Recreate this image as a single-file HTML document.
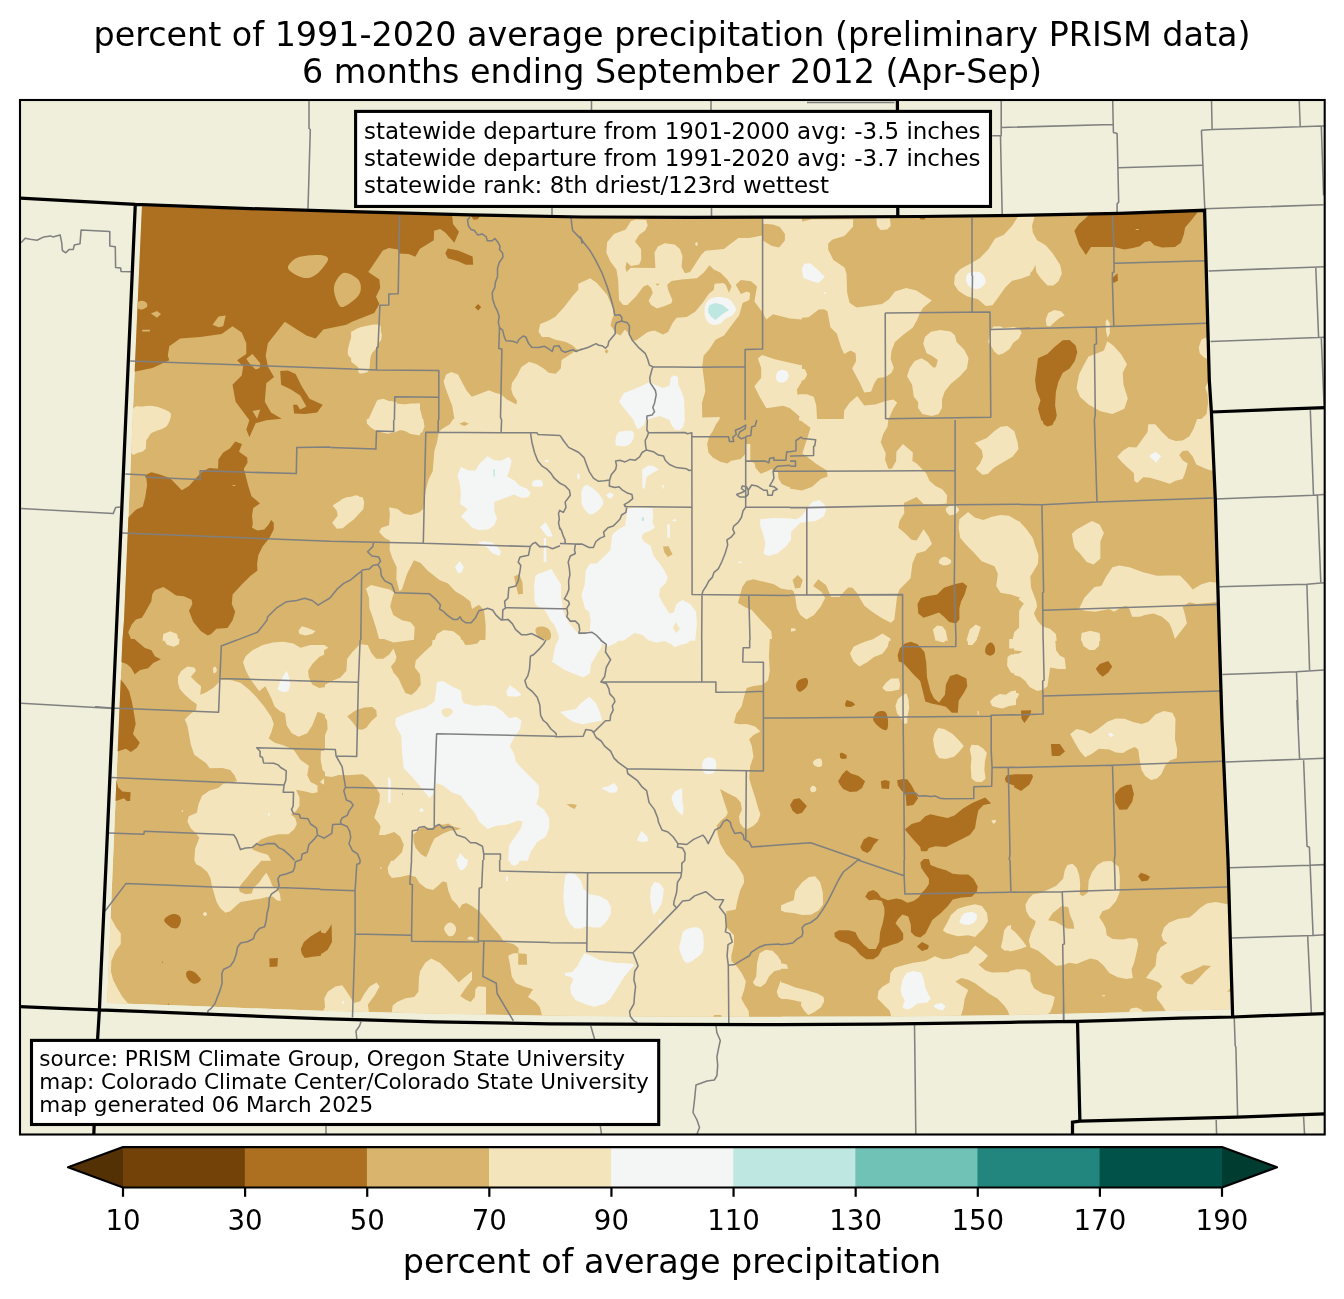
<!DOCTYPE html>
<html lang="en"><head><meta charset="utf-8"><title>percent of average precipitation</title>
<style>html,body{margin:0;padding:0;background:#fff}body{width:1344px;height:1299px;overflow:hidden}svg{display:block}text{font-family:"DejaVu Sans","Liberation Sans",sans-serif;fill:#000}.t{font-size:33.36px}.b{font-size:22.96px}.b2{font-size:21.52px}.k{font-size:27.65px}</style></head><body>
<svg width="1344" height="1299" viewBox="0 0 1344 1299">
<rect width="1344" height="1299" fill="#fff"/>
<defs><clipPath id="ax"><rect x="20" y="100" width="1304.7" height="1034.5"/></clipPath><clipPath id="co"><path d="M135.3,204.4L250,208.6L352,211.7L470,214.9L582,217L690,217.4L800,217.1L920,216.5L1030,215.2L1120,213.3L1205.8,210.3L1210.5,380L1212.6,412L1216.5,499L1220.6,640L1223.1,720L1229.2,860L1234.2,1009.2L1120,1012.4L1010,1015.2L895,1016.5L780,1016.8L665,1016.8L550,1015.8L435,1013.8L320,1010.8L207,1006.6L107.1,1002.9L113,860L122.4,640L124,620L132.5,420L142,204.7Z"/></clipPath></defs>
<g clip-path="url(#ax)">
<rect x="20" y="100" width="1305" height="1034" fill="#efefdb"/>
<g clip-path="url(#co)">
<path d="M135.3,204.4L250,208.6L352,211.7L470,214.9L582,217L690,217.4L800,217.1L920,216.5L1030,215.2L1120,213.3L1205.8,210.3L1210.5,380L1212.6,412L1216.5,499L1220.6,640L1223.1,720L1229.2,860L1234.2,1009.2L1120,1012.4L1010,1015.2L895,1016.5L780,1016.8L665,1016.8L550,1015.8L435,1013.8L320,1010.8L207,1006.6L107.1,1002.9L113,860L122.4,640L124,620L132.5,420L142,204.7Z" fill="#d8b46c"/>
<path fill="#ad7021" d="M138.6,206.2L420,214.5L419.9,248.8L415.3,256.8L408.5,253.9L399.1,253.4L398.2,249.6L388.8,247.9L382.8,250.5L368.3,271.9L379.4,279.6L380.2,288.1L376,296.7L379.4,304L374.2,312.9L352,321.8L346.4,324.8L323.3,329.4L315.6,338.6L306.4,335.6L284.8,321.7L267.9,343.3L265.7,355.6L267.9,366.4L274,377.1L266.3,383.3L264.8,401.8L271,412.5L281.7,418.7L266.3,420.2L255.6,423.3L249.4,437.2L246.3,429.5L249.4,420.2L235.6,401.8L232.5,384.8L241.7,375.6L243.2,366.4L237.1,360.2L246.3,354L246.3,343.3L241.7,332.5L232.5,326.3L221.7,334L200.1,337.1L180.1,338.6L169.3,346.3L167.8,355.6L169.3,360.2L152.4,367.9L135.5,371.6L124.7,371L124.7,206.2ZM280.2,371L287.9,370.4L295.6,374.1L301.8,386.4L309.5,398.7L322.7,404.8L317.2,412.5L304.8,414.1L294.1,413.5L293.1,404.8L297.1,404.8L300.2,409.5L306.4,406.4L300.2,395.6L291,389.5L281.1,384.8ZM164.1,920.2C164.2,918.6 167.1,916.7 168.7,915.6C170.3,914.5 172.2,913.9 173.9,913.9C175.6,913.9 177.8,914.5 179,915.6C180.2,916.8 181.2,918.8 181,920.8C180.8,922.8 179.4,926.4 178.1,927.6C176.8,928.8 174.7,928.5 173,928.1C171.3,927.7 169.4,926.3 167.9,925C166.4,923.7 164.0,921.8 164.1,920.2ZM186.2,972.9C186.5,971.6 187.9,970.5 189.3,970.4C190.7,970.3 192.8,971.1 194.4,972.1C196.0,973.1 197.6,975.1 198.7,976.4C199.8,977.7 201.3,978.6 200.9,979.8C200.5,981.0 197.8,983.2 196.1,983.6C194.4,984.0 192.5,983.3 191,982.4C189.5,981.5 188.0,979.7 187.2,978.1C186.4,976.5 185.8,974.2 186.2,972.9ZM269.3,958.4L277.9,958.1L277.4,966.4L269.7,967ZM300.8,949L303.9,942.1L310.8,936.2L321,930.2L321,955.8L312.5,956.7L304.8,957.9L301.9,954.1ZM161.9,961.8L162.9,961.8L162.9,962.8L161.9,962.8ZM167.9,1003.8L168.9,1003.8L168.9,1004.8L167.9,1004.8ZM115.5,639.1L134.4,639.1L144.6,647.7L151.5,650.3L154.9,656.3L160.9,659.2L153.2,663.1L148.1,668.2L140.3,669.9L134.7,674.2L130.9,667.4L126.7,664L122,662.2L115.5,662.2ZM120.7,679.4L124.9,684.5L129.2,691.3L131.8,701.6L133.5,710.2L135.7,723.9L133,734.1L139.8,742.7L136.9,747.8L130.9,752.1L125.8,748.7L118.1,751.2L112.1,751.2L112.1,679.4ZM116.4,780.3L118.1,787.2L122.4,791.5L130.6,792.3L130.1,800.9L126.7,800.9L124.1,798.3L119,800L115.5,800.9L110.4,800.9L110.4,780.3ZM145.9,474.8L151.3,472.2L159.9,474.4L170.2,478.2L181.8,490.2L189,485.9L195.8,478.2L202.7,471.3L209.5,467.9L218.1,468.8L218.4,459.4L223.2,452.5L230.1,448.2L235.2,441.4L242,444L239,451.7L247.2,457.6L247.5,462.8L243.8,468.8L245.5,474.8L248,485L251.5,496.2L260,503.5L253.2,508.1L252,515.8L252.8,523.5L252,527.8L257.4,530.4L264.3,529.5L268.6,524.4L271.1,520.1L273.7,522.7L273.7,529.5L269.4,538.1L262.6,546.6L258.3,555.2L257.1,563.8L257.4,570.6L250.6,575.7L242,584.3L232.6,594.6L231.8,604L235.2,611.7L232.6,620.2L227.5,627.9L216.4,628.8L211.2,633.9L207.8,635.6L201,631.3L193.3,621.9L189,610.8L192.4,604L191.6,599.7L183.9,596.3L176.2,595.4L168.5,590.3L163.3,586.9L154.8,590.3L152.2,594.6L151.3,601.4L144.5,613.4L141.9,617.7L135.9,619.4L131.7,624.5L128.2,632.2L131.7,640.8L117.1,640.8L117.1,517.5L128.2,517.5L135.9,509.8L142.8,506.4L145.3,497L147.1,485ZM1138,876.3L1140.9,872.8L1146,874.5L1150,876.8L1147.8,880.5L1141.8,881.4ZM1095.8,668.8L1099.7,664L1108.3,660.9L1112.2,666.5L1108.3,672.5L1102.6,676.8L1098.9,673.4ZM1021,710.5L1031.3,710.2L1030.4,714.4L1027,719.6L1024.4,723L1021.5,718.7ZM1050.9,744L1059.8,744L1065,751.6L1059.5,756L1051.8,756ZM1014.1,774.3L1032.1,774.3L1033,776.9L1029.5,784.6L1021,790.9L1014.1,787.2ZM1115.1,794L1120.2,788L1126.2,785.1L1131.4,784.6L1133.9,794L1132.2,801.7L1127.1,809.4L1119.4,809.8L1115.1,802.6ZM1090.2,213.7L1199.3,210.3L1191.1,220.5L1185.1,227.4L1183.9,234.2L1180.9,242.8L1174.9,247.1L1162,247.6L1154.3,245.3L1150.1,241.1L1144.9,241.9L1139.8,246.2L1132.9,247.9L1124.4,249.6L1114.1,247.1L1091,247.1L1085.9,255.1L1079,244.5L1074.4,230.8L1079,224L1085,218.8ZM1111.6,278.7L1117.5,273.2L1117.9,280.4L1113.8,283ZM1038,358.3L1047.4,354L1054.2,347.2L1062.8,340.3L1069.6,340L1075.6,345.5L1077.3,352.3L1074.8,360.9L1069.6,368.6L1062.8,372.8L1058.5,381.4L1055.9,391.7L1055.1,405.4L1056.8,415.6L1055.1,420.8L1041.4,420.8L1038,408.8L1040.5,400.2L1036.3,390L1035.1,379.7L1036.3,371.1ZM1042.2,419.1L1055.1,419.1L1052.5,425.1L1047.4,426.5L1043.6,424.3ZM319.1,931.9L325.1,933.6L328.6,929.3L331.6,924.2L332,942.1L327.7,949.8L321.7,953.8L319.1,953.8ZM417,213.7L452.1,214.5L453,224L459,231.7L454.3,242.8L445.3,232.5L440.1,229.1L434.1,230.8L433.8,240.2L421.3,247.9L417,250ZM470.9,215.4L480.3,215.4L477.8,219.2L473.5,219.7ZM445.3,253.1L447.8,248.4L458.1,250.5L472.6,256.5L473.2,264.7L465.8,264.7L458.1,261.3L447.8,258.2ZM474.9,307.3L478.1,303.9L481.2,307.3L478.1,310.4ZM865.2,896.8L868.1,891.7L873.3,889.9L877.5,892.5L881,897.6L887.8,900.2L896.4,898.5L901.5,899.4L907.5,902.8L913.5,901.1L918.6,897.6L922,892.5L925.5,889.1L928.9,884L928.9,878.8L924.6,872.8L921.2,867.7L920.3,862.6L923.8,859.1L928.9,859.1L930.6,865.1L937.4,867.7L946,870.3L952.8,873.7L959.7,874.5L968.2,874.5L973.4,878.8L977.7,886.5L976.8,891.7L971.7,896.8L961.4,897.6L952.8,899.4L947.7,906.2L940.9,913.1L932.3,919.9L928.9,926.7L925.5,933.6L920.3,937.4L915.2,936.2L910.9,931.9L910.9,925L908.3,916.5L902.4,914.4L898.1,919L895.5,923.3L899.8,928.5L903.2,933.6L903.2,939.6L898.1,943L889.5,945.6L882.7,948.1L878.4,955.8L873.3,959.3L866.4,959.3L860.4,955L855.3,949L848.5,943.9L839.9,941.3L834.8,937L834.4,932.7L839,930.2L848.5,930.2L855.3,931.9L858.7,938.7L863.9,944.7L869,949L875.8,949L879.3,942.1L880.1,931.9L882.7,923.3L884.4,914.8L884.4,907.9L881.8,901.1L875.8,899.4L869,900.2ZM916.9,946.4L922,942.1L928.9,945.6L928,949L922,951ZM897.6,655.4L899.7,648.6L904.8,643.4L910.8,641.7L917.6,644.3L924.5,652L926.2,662.2L927,677.6L930.5,691.3L933.9,698.2L939,702.5L945,694.8L945.9,684.5L950.1,675.9L957,673.9L966.4,678.5L967.3,686.2L963.8,693.1L958.7,700.8L957.8,712.7L951.9,712.7L945.9,706.7L939,705L932.2,703.7L925.3,701.6L922.8,691.3L920.2,681.1L913.3,674.2L907.4,667.4L903.1,663.1L898.8,661.4ZM796.1,685.3C796.4,683.7 797.1,681.4 798.7,680.2C800.3,679.0 803.9,677.9 805.5,678C807.1,678.1 808.0,679.6 808.1,681.1C808.2,682.6 807.7,685.3 806.4,687.1C805.1,688.9 802.0,691.3 800.4,691.7C798.8,692.1 797.7,690.7 797,689.6C796.3,688.5 795.8,686.9 796.1,685.3ZM844.9,704.2L846.6,699.9L852.6,701.9L855.2,704.7L850.9,707.1L845.8,706.7ZM873.1,719.6C872.8,717.6 874.4,715.0 875.7,713.6C877.0,712.2 879.1,711.1 880.8,711C882.5,710.9 884.8,711.1 886,712.7C887.2,714.3 887.8,717.7 888,720.4C888.2,723.1 888.1,727.4 887.3,729C886.5,730.6 885.0,730.4 883.4,729.8C881.8,729.2 879.1,727.3 877.4,725.6C875.7,723.9 873.4,721.6 873.1,719.6ZM839.8,753.8L841.5,752.6L846.6,755L846.6,758.4L842.3,758.9L840.1,757.7ZM838.1,781.2L842.3,774.3L846.6,770.1L850.9,773.5L858.6,776L865.1,781.2L862,788L856.9,791.5L850,792L843.2,788.9L839.8,784.6ZM880.8,781.2L885.1,780L889.7,781.2L889,788.9L881.7,788.5ZM897.1,780.3L903.1,779L907.4,779.5L911.6,785.5L915.1,792.3L918.1,798.3L913.3,805.1L906.5,806L905.6,794L901.4,790.6L897.9,785.5ZM790.1,805.1L793.6,799.2L799.5,798.3L806.9,806L802.1,812.8L797,814.2L792.7,811.1ZM860.3,847.1L863.7,839.4L868.9,836.5L878.8,839.4L874,844.5L870.6,850.5L867.1,853.1L862,850.5ZM904.8,829.6L911.6,824L920.2,821.4L925.3,816.3L930.5,814.2L939,816.3L947.6,818L954.4,815.4L963,808.6L973.2,802.6L985.2,797.4L991.2,803.4L983.5,805.1L978.4,810.3L976.7,818L975,828.2L969.8,835.1L963,838.5L954.4,842.8L945.9,847.1L935.6,846.2L928.8,847.9L927,851.3L921,851.3L920.2,847.1L913.3,839.4L908.2,833.4ZM985.2,650.3C985.3,648.9 985.9,646.4 986.9,645.1C987.9,643.8 989.9,642.3 991.2,642.6C992.5,642.9 994.0,645.1 994.6,646.8C995.2,648.5 995.3,651.3 994.6,652.8C993.9,654.3 991.8,655.6 990.4,655.7C989.0,655.9 987.0,654.6 986.1,653.7C985.2,652.8 985.1,651.7 985.2,650.3ZM1004.9,778.6L1006.6,775.2L1016,774.3L1016,786.3L1009.2,783.8L1005.8,782ZM917.5,604L920.9,598L926.9,596.3L937.2,594.6L944,587.7L954.3,584.3L962.8,582.6L967.1,586L964.6,594.6L961.1,601.4L959.4,608.2L959.4,619.4L956,623.6L949.2,621.9L944,616.8L938.9,612.5L932,615.1L923.5,617.7L918.3,613.4ZM918.1,216.3L926.6,216.3L924.6,219.5L920.6,219.5Z"/>
<path fill="#d8b46c" d="M287.9,267.8C287.6,265.0 292.3,260.7 295.6,258.6C298.9,256.6 303.3,256.0 307.9,255.5C312.5,255.0 320.0,254.7 323.3,255.5C326.6,256.3 328.7,257.3 327.9,260.1C327.1,262.9 322.0,269.4 318.7,272.4C315.4,275.4 311.5,277.5 307.9,278C304.3,278.5 300.4,277.2 297.1,275.5C293.8,273.8 288.1,270.6 287.9,267.8ZM334.1,286.3C335.1,281.5 339.5,274.4 343.3,273.1C347.1,271.8 354.3,276.2 357.2,278.6C360.1,281.1 360.9,284.7 360.9,287.8C360.9,290.9 360.1,293.9 357.2,297.1C354.3,300.3 346.6,306.1 343.3,306.9C340.0,307.7 338.7,305.1 337.2,301.7C335.7,298.3 333.1,291.1 334.1,286.3ZM137,303.2C137.7,302.0 140.0,300.9 141.6,300.8C143.2,300.7 145.4,301.6 146.3,302.6C147.2,303.6 147.7,305.8 146.9,306.9C146.1,308.0 143.2,309.2 141.6,309.4C140.0,309.6 138.4,308.9 137.6,307.9C136.8,306.9 136.3,304.4 137,303.2ZM150.9,313.4L157,310.9L161,314L157,317.7ZM142.2,329.7L149.9,329.7L149.9,331.6L142.2,331.6ZM212.5,324.8L218.6,316.5L225.7,315.6L223.2,326.3L218.6,327.3ZM246.3,358.7L252.5,354L260.2,363.3L259.6,367.9L255.6,369.4L249.4,363.3ZM252.5,411L260.2,409.5L257.1,418.7ZM232.6,484.9L235.2,484.9L235.2,486.1L232.6,486.1ZM1135.7,228.9L1138.9,228.9L1138.9,230.1L1135.7,230.1Z"/>
<path fill="#f3e4bb" d="M347.9,354C347.0,349.1 350.8,338.4 352.6,334C354.4,329.6 354.4,329.4 358.7,327.9C363.0,326.4 375.1,323.8 378.7,324.8C382.3,325.8 380.6,330.4 380.3,334C380.1,337.6 378.8,342.7 377.2,346.3C375.6,349.9 372.3,352.0 371,355.6C369.7,359.2 370.3,365.1 369.5,367.9C368.7,370.7 368.2,371.7 366.4,372.5C364.6,373.3 360.1,374.0 358.7,372.5C357.3,371.0 359.9,366.4 358.1,363.3C356.3,360.2 348.8,358.9 347.9,354ZM368,420.2L377.2,400.2L383.4,398.7L394.1,403.3L408,404.8L420,403.3L420,435.6L411.1,434.1L401.8,429.5L394.1,432.6L377.2,431ZM132.4,411C134.4,403.6 139.3,407.2 143.2,406.4C147.0,405.6 151.4,405.6 155.5,406.4C159.6,407.2 165.2,409.5 167.8,411C170.4,412.5 171.2,413.0 170.9,415.6C170.7,418.2 169.4,423.6 166.3,426.4C163.2,429.2 155.7,430.6 152.4,432.6C149.1,434.7 147.6,435.9 146.3,438.7C145.0,441.5 146.0,447.2 144.7,449.5C143.4,451.8 140.9,452.4 138.6,452.6C136.3,452.9 131.9,457.9 130.9,451C129.9,444.1 130.4,418.4 132.4,411ZM340.2,500L346.4,497.2L358.7,495.7L361.8,500ZM105.4,916.5L110.2,916.5L115.7,926.7L120.8,933.6L120.8,943.9L115.7,950.7L111.4,961L110.9,971.2L113.1,979.8L117.4,988.3L122.5,996.9L128.5,1004.1L128.5,1007.2L103.7,1007.2ZM194,859.1L262.8,859.1L257.7,865.1L252.6,870.3L247.4,877.1L242.3,883.1L238.9,887.4L239.7,891.7L245.7,894.2L251.7,893.4L253.4,888.2L259.4,882.2L262.8,877.1L266.3,872.8L269.7,878.8L272.3,885.7L277.4,889.1L280,894.2L280.8,901.1L276.5,900.2L273.1,896.8L268,896.8L261.1,898.5L250.9,900.2L240.6,901.9L235.5,906.2L230.3,911.3L225.2,912.7L220.1,907.9L216.6,901.9L214.1,893.4L211.8,885.7L210.6,878.8L207.2,872L201.2,866.8L196.1,864.3ZM202.9,913.9C202.9,913.2 204.3,911.9 205,911.9C205.7,911.9 207.2,913.2 207.2,913.9C207.2,914.6 205.7,916.1 205,916.1C204.3,916.1 202.9,914.6 202.9,913.9ZM163.5,639.1L179.7,639.1L178.9,644.3L173.7,646.8L166.9,644.8ZM213.1,668.2C213.4,667.1 215.0,666.6 215.6,667C216.2,667.4 217.1,669.7 216.8,670.8C216.5,671.9 214.5,673.8 213.9,673.4C213.3,673.0 212.8,669.3 213.1,668.2ZM220.8,679.4L231.9,680.2L240.5,682.8L249,689.6L255.9,696.5L264.4,706.7L271.3,717L273.8,723.9L271.3,732.4L268.7,738.4L274.7,742.7L283.2,745.2L293.5,749.5L300.4,759.8L308.9,765.8L307.2,775.2L310.6,782L317.5,785.5L317.5,792.3L312.3,793.2L305.5,791.5L296.1,789.7L299.5,797.4L299.5,806L296.1,811.1L290.9,814.6L295.2,818L296.9,824L294.4,829.1L288.4,834.2L278.1,834.2L267.8,836.8L261,839.4L254.2,845.4L252.4,849.6L259.3,852.2L267.8,854.8L271.3,860.8L194.3,860.8L195.1,848.8L197.7,841.9L199.4,837.7L196,833.4L190.8,828.2L187.4,821.4L188.8,816.3L196.8,812.8L198.5,804.3L202,795.7L209.7,790.6L218.2,788L223.3,783.8L237,781.2L234.5,775.2L230.2,770.1L222.5,768L209.7,768.3L206.2,763.2L200.2,758.9L194.3,754.7L190.8,744.4L189.1,735L187.4,725.6L184.8,719.6L190.8,713.6L196,710.2L196.8,704.2L190.8,699.9L184.8,694.8L179.7,688.8L178,682.8L178,676.8L181.4,670.8L187.4,666.5L194.3,667.4L196,670.8L190.8,676.8L196,681.9L201.1,686.2L200.2,694.8L206.2,692.2L213.1,687.9L218.6,682.8ZM243,662.2L245.6,656.3L252.4,650.3L262.7,645.1L273,642.6L283.2,641.7L293.5,643.4L300.4,647.7L310.6,645.1L326,645.1L326,653.7L319.2,657.1L312.3,664L308.1,670.8L308.9,677.6L312.3,684.5L319.2,687.9L326,687.1L326,715.3L320.9,712.7L317.5,711.9L314.9,718.7L312.3,725.6L307.2,733.3L298.6,736.7L291.8,733.3L286.7,725.6L285,713.6L279.8,711L274.7,706.7L271.3,698.2L268.7,693.1L265.3,686.2L259.3,691.3L254.2,684.5L249,676.8L245.6,669.9ZM320.9,751.2L326,749.5L326,773.5L322.6,770.1L320.6,759.8ZM320,782L323.5,778.6L326,782L323.5,784.6ZM125.7,419.1L168.5,419.1L167.6,425.1L159.9,429.4L151.3,432.8L146.2,440.5L145.9,449.1L139.4,452.5L131.7,450.8ZM162.5,640.8L163.3,633.9L170.2,631.3L177,633.9L178.7,640.8ZM298.5,630.5L301.9,626.2L307.9,627.9L315.6,631.3L312.2,633.9L305.4,635.6L299.4,633.9ZM1025.4,904.8L1028.8,898.5L1033.1,894.2L1040.8,892.9L1049.4,889.1L1056.2,885.7L1063.1,878.8L1064.8,870.3L1067.3,865.1L1072.5,863.8L1076.7,867.7L1079.3,875.4L1080.2,884L1079.8,894.2L1082.7,896.3L1087.9,892.5L1088.7,880.5L1092.1,872L1097.3,865.1L1103.3,861.4L1111,860.9L1118.7,866.8L1119.9,877.1L1119.5,892.5L1116.1,901.1L1109.3,908.8L1102.4,911.3L1099.3,917.3L1103.3,923.3L1105.8,928.5L1106.7,935.3L1112.7,939.1L1122.9,939.6L1129.8,937.9L1136.6,938.7L1138.3,943.9L1136.6,952.4L1134.1,962.7L1131.5,969.5L1132.9,978.1L1126.4,978.9L1117.8,977.2L1109.3,972.9L1103.3,965.2L1097.3,960.1L1090.4,958.4L1083.6,961L1076.7,964L1069,962.7L1063.1,965.2L1056.2,965.8L1051.1,961.8L1044.2,955.8L1038.2,950.7L1030.5,947.6L1028.8,940.4L1031.4,931.9L1034.8,925L1035.7,921.3L1029.7,917.3L1026.3,911.3ZM1009.1,927.6L1015.1,931.9L1021.1,938.7L1026.8,946.4L1020.3,949L1013.4,950.7L1009.1,951.6ZM1009.1,971.2L1016.8,969.2L1025.4,969.5L1030.2,972.9L1030.9,981.5L1034,988.3L1042.5,993.5L1051.1,995.2L1054.8,996.9L1052.8,1005.5L1050.2,1012.3L1042.5,1017.4L1009.1,1017.4ZM1161.5,935.3L1164,927.6L1169.2,922.5L1177.7,919L1189.7,917.3L1194.8,913.1L1200,907.9L1206.8,903.6L1215.4,901.9L1223.9,903.6L1232.5,905.3L1235.9,1014L1167.4,1014L1162.3,1005.5L1156.8,998.6L1157.2,992.6L1162.3,986.6L1158.9,982.4L1152,979.8L1146,978.1L1150.3,972.1L1155.5,966.1L1156.8,954.1L1160.6,947.3L1167.4,943L1163.2,940.4ZM1128.1,1014L1130.6,1008.5L1136.6,1007.5L1141.8,1009.7L1144.3,1014ZM1102.4,994.9L1105,994.9L1105,996.2L1102.4,996.2ZM1014.1,639.1L1055.2,639.1L1056.1,650.3L1059.8,655.4L1064.6,658L1066,669.1L1058.6,669.1L1050.1,667.4L1047.5,686.2L1043.2,689.6L1037.2,691L1029.5,687.1L1025.3,681.1L1020.1,676.8L1014.1,675.1ZM1014.1,691.3L1019.3,693.9L1016.7,699L1014.1,699.9ZM1080.9,639.1L1099.7,639.1L1098.9,646L1094.6,649.9L1089.4,649.9L1083.5,646ZM1070.1,734.1L1076.6,729L1083.5,730.4L1090.3,733.8L1097.1,729.8L1107.4,721.8L1116,718.4L1124.5,718.7L1133.1,722.1L1141.6,723.9L1148.5,721.8L1155.3,714.4L1163.9,711L1172.4,712.7L1175.5,718.7L1175,739.3L1177.2,749.5L1176.7,758.1L1169.9,760.6L1165.6,764.9L1161.3,774.3L1157,778.6L1151,780L1145.1,776L1141.6,770.1L1139.6,759.8L1138.2,749.5L1134.8,747L1128.8,749.5L1122.8,752.9L1116,752.6L1109.1,749.5L1098.9,748.7L1092,753.8L1085.2,757.2L1080,751.2L1074.9,742.7ZM1019.1,214.5L1034.5,217.1L1032,225.7L1032.8,232.5L1037.1,240.2L1045.7,245.3L1052.5,253.1L1060.2,265L1061.9,273.6L1058.5,281.3L1053.4,285.6L1047.4,285.6L1040.5,277.9L1036.3,271.9L1035.4,265L1032.8,270.2L1027.7,276.2L1019.1,279.1ZM1045.7,319.8L1048.2,312.9L1054.2,309.9L1061.1,311.2L1064.8,315.5L1059.4,318.1L1054.2,322.4L1049.9,326.6L1046.5,325.8ZM1105.6,321.5L1107.3,318.9L1109.8,323.2L1109.8,333.5L1107.6,337.8L1106.1,331.8ZM1076.5,388.2L1079,374.6L1084.2,364.3L1088.5,356.6L1095.3,354L1103.9,350.6L1107.3,341.2L1113.3,345.5L1121,354L1127,364.3L1122.7,372.8L1123.5,384.8L1127.8,398.5L1124.4,408.8L1112.4,413.9L1100.4,411.3L1088.5,404.5L1079.9,396.8ZM1198.8,347.2L1201.4,339.5L1205.7,337.8L1209.1,342L1213.4,360.9L1204,357.4L1199.7,353.2ZM1205.2,387.4L1208.2,382.3L1213.4,384L1213.4,420.8L1199.7,420.8L1206.5,413.9L1208.2,401.9L1207.4,393.4ZM1019.1,330.1L1021.7,333.5L1019.1,336.9ZM1117.2,456.8L1122.7,450.8L1128.7,447L1136.4,447.4L1141.5,440.5L1147.5,432L1148.3,424.3L1155.2,424.3L1162,432L1168.9,438.8L1175.7,440.9L1182.6,440.5L1189.4,436.3L1193.7,428.6L1197.1,419.1L1215.1,419.1L1216.8,472.2L1205.7,468.8L1196.3,464.5L1192.8,456.8L1187.7,450.5L1182.6,451.1L1179.2,455.1L1182.6,460.2L1187.7,463.6L1185.1,473.1L1182.6,479L1175.7,480.8L1169.7,483.7L1160.3,480.8L1150.1,477.8L1143.2,477.3L1137.2,483L1134.3,480.8L1133.8,473.1L1127,467.1L1121.8,461.9ZM1071.9,533.8L1076.5,529.5L1084.2,525.2L1091.9,521L1099.6,524.4L1103.9,532.9L1100.4,541.5L1100.4,558.6L1093.6,564.6L1086.7,562L1079.9,553.5L1074.8,548.3L1073.1,541.5ZM1079,609.1L1084.2,598L1094.4,586.9L1101.3,586L1105.6,577.4L1112.4,567.2L1119.3,565.5L1129.5,567.2L1143.2,572.3L1156.9,575.7L1168.9,575.4L1180,575.4L1186.9,582.6L1192.8,589.4L1201.4,584.3L1210,581.7L1221.1,583.4L1221.1,601.4L1208.2,603.1L1196.3,604L1189.4,602.3L1182.6,606.5L1185.1,615.1L1186.9,623.6L1180.9,631.3L1174.9,639L1171.5,627.9L1168.9,622.8L1162,616.8L1153.5,613.4L1144.9,615.1L1139.8,616.8L1132.1,616.8L1129.5,609.1L1126.1,605.7L1121,607.4L1114.1,611.7L1109,609.1L1095.3,611.7L1085,610.8ZM1019.1,521L1026.8,529.5L1032.8,538.1L1035.4,546.6L1038.5,555.2L1038,563.8L1030.3,576.6L1031.1,587.7L1036.3,601.4L1037.1,606.5L1034,613.4L1037.1,620.2L1042.2,626.2L1049.9,628.8L1055.9,633.9L1056.8,640.8L1019.1,640.8L1019.1,610.8L1023.8,603.5L1019.1,599.7ZM1080.8,640.8L1081.6,633.1L1090.2,630.8L1099.6,633.1L1100.4,640.8ZM551,859.1L551,1017.4L542.5,1017.4L539.9,1007.2L535.6,1002L527.9,996.9L533.1,989.2L523.6,986.6L515.9,983.2L511.7,976.4L510,964.4L508.2,955.8L513.4,953.3L518.5,953.3L518.5,948.1L513.4,943.9L504,941.8L499.7,935.3L492.8,927.6L486,919L479.2,911.3L472.3,906.2L466.3,903.1L462,904.5L459.5,908.8L456.9,904.5L451.8,899.4L448.3,890.8L446.6,882.2L442.4,881.4L438.1,885.7L432.9,889.9L426.1,888.2L419.3,883.1L415.8,877.1L409,875.1L400.4,877.1L391.9,878L388.5,873.7L387.6,867.7L391.9,859.1ZM391,1017.4L392.7,1005.5L397,1002L405.6,998.3L414.1,996.9L418.4,991.8L418.9,978.1L420.1,971.2L425.2,962.7L431.2,958.4L439.8,962.7L446.6,969.5L453.5,976.4L458.6,982.4L465.5,976.4L472,971.2L472,979.8L465.5,988.3L460.3,996L465.5,999.5L470.6,1002L474.9,996.9L475.4,989.2L478.3,986.3L486,987L486,1017.4ZM319.1,1017.4L325.1,1007.2L324.3,998.6L327.7,991.8L335.4,986.6L342.2,985.3L345.7,990.1L349.1,995.2L352.2,1000.3L354.2,1002.9L360.2,1001.2L364.5,993.5L369.6,986.6L376.5,982.4L379.6,986.6L374.8,995.2L367.9,1004.6L369.6,1017.4ZM444.1,928.5C444.2,927.1 445.5,925.2 446.6,924.2C447.7,923.2 449.5,922.2 450.9,922.5C452.3,922.8 454.3,924.6 455.2,925.9C456.1,927.2 456.3,928.6 456,930.2C455.7,931.8 454.6,934.3 453.5,935.3C452.4,936.3 450.5,936.6 449.2,936.2C447.9,935.8 446.6,934.0 445.8,932.7C445.0,931.4 444.0,929.9 444.1,928.5ZM467.2,937.9L470.6,936.2L474,937.9L473.2,940.1L468,939.6ZM325,640L555,640L555,860L325,860ZM366.8,419.1L423.3,419.1L424.5,426.8L422.4,432L418.1,435.1L410.4,434L405.3,431.1L400.2,429.9L394.2,432L388.2,433.7L381.3,432.3L375.3,430.3L371.1,427.7L366.8,423.4ZM332.6,505.6L342,499.6L355.7,495.3L362.5,497L364.2,502.1L363.4,509L354,519.3L347.1,524.4L342.8,528.2L336.8,528.7L332.1,522.7L337.7,515.8L336.8,510.7ZM561,419.1L561,640.8L485.4,640.8L485.7,625.4L484,610L478.9,604.8L472,609.1L470.3,601.4L463.5,596.3L454.9,591.1L448.1,583.4L439.5,580L427.5,570.6L420.7,562.9L413.9,560.3L407,574L401.9,589.4L399.3,591.1L396.4,579.2L396.7,567.2L392.5,558.6L389.6,550.1L389.9,540.6L384.8,538.1L379.1,532.1L381.3,527.8L389,525.2L389.9,514.1L389,507.3L397.6,509L403.6,513.8L410.4,515L419,512.4L423.3,509L425,495.3L425.8,490.2L428.4,479.9L432.7,471.3L434.4,450.8L437,442.2L438.7,432.8L441.2,429.4L449.8,424.3L453.2,419.1ZM365.9,588.6L371.1,585.1L381.3,587.4L389.9,589.4L394.2,592.8L392.5,597.1L390.2,606.5L393.3,615.1L401.9,620.2L410.4,621.9L414.7,627.1L413.9,640.8L379.6,640.8L375.3,625.4L371.9,615.1L369.4,608.2L369,598ZM434.4,640.8L437,633.9L443.8,630.1L453.2,631.3L460.1,636.5L461.8,640.8ZM395.9,640.8L401.9,638.2L407.9,640.8ZM351.1,331.8L358.8,328.3L370,327.5L375.1,324.9L380.2,327.5L381.9,335.2L381.1,340.3L377.7,343.8L371.7,346.3L370,354L368.3,368.6L364.8,372.8L359.7,373.7L358,366.9L351.1,361.7ZM368.3,420.8L373.4,410.5L378.5,399.4L385.4,400.2L396.5,401.9L397.3,405.4L411,403.6L417.9,403.6L420.5,410.5L423,420.8ZM443.6,381.4L446.1,374.6L451.3,372L458.1,374.6L462.4,383.1L466.7,390.8L471.8,396.8L478.6,394.2L488.9,390.3L495.8,393L500.9,394.2L506.9,399.4L516.3,404.5L517.1,401.1L512.9,395.1L511.2,389.1L512,383.1L517.1,375.4L521.4,366.9L529.1,361.7L536.8,364.3L543.7,368.6L548.8,372.8L555.6,373.7L560.8,368.6L561.6,360L569.3,354.9L574.5,351.5L583,348.9L583,420.8L454.7,420.8L452.1,405.4L448.7,396.8L445.3,387.4ZM583,349.7L576.2,348.9L572.8,345.5L565.9,342L554.8,339.5L548.8,336.9L542,336.9L538.5,331.8L540.2,324.1L548.8,320.6L555.6,316.4L564.2,307L572.8,295.8L583,284.7ZM550,860L780,860L780,1020L550,1020ZM555,640L785,640L785,860L555,860ZM560,420L790,420L790,640L560,640ZM801.9,319.4L790,318.6L773.1,314.3L766.3,319.4L762.6,312.6L754.4,301.6L757,286.4L751.1,281.3L740.9,279.9L735.8,284.7L740.9,294L746.8,291.5L750.2,293.1L749.4,299.9L742.6,303L739.2,315.2L729,328.7L724,335.5L715.5,339.7L709.6,349L703.6,355.8L702.3,366.8L704.5,382.9L705.3,391.4L701.9,403.2L702.3,417.6L719.7,417L719.7,421.9L578.3,421.9L578.3,283.8L580,283L590.2,278.2L596.9,283L607.1,294.8L613,308.4L613.9,315.2L612.2,318.6L610.5,325.3L616.4,333.8L620.6,335.5L624.9,329.6L629.1,333.8L632.5,340.6L635.9,340.6L647.7,332.1L654.5,330.4L663,334.6L668.1,332.1L672.3,323.6L676.5,317.7L686.7,316.9L695.2,311.8L703.6,301.6L708.7,294L713.8,289.8L714.6,283.8L723.1,283L725.7,284.7L729,292.8L731.6,286.4L727.3,279.6L720.6,272.8L713.8,269.4L709.6,265.2L703.6,272.8L696.9,278.2L681.6,279.6L671.5,281L667.2,284.7L668.1,289.8L672.3,299.9L671.5,303.3L664.7,305.9L657.1,308.4L651.1,305L648.6,300.8L652.8,293.1L651.1,288.1L647.7,284.7L643.5,286.4L635.9,296.5L627.4,305L623.2,305L619,299.9L618.1,279.6L616.4,269.4L610.5,261.8L606.3,252.5L607.1,242.3L613.9,233.9L625.7,229.6L630.8,221.2L635.9,219.5L646.1,220L647.7,225.4L645.2,230.5L639.3,234.7L635,241.5L641,249.1L641.3,259.3L639.3,264.4L630.8,266.1L626.6,261.8L625.4,267.7L626.6,272L630.8,267.7L655.4,268.1L654.5,252.5L657.9,246.6L664.7,243.2L674.8,244.4L679.9,249.1L682.5,255.9L681.6,266.9L685,273.2L690.1,272L701.1,255L705.3,250.8L724,249.1L729,244.9L738.4,238.1L749.4,238.1L762.1,235.6L762.9,240.6L771.4,245.7L779,247.4L784.9,240.6L784.9,233.9L779.8,227.1L773.1,224.6L762.9,223.7L762.9,216.9L801.9,216.9ZM757.8,358.4L762.1,355L774.8,359.2L800,365.1L801.9,365.1L801.9,382.1L800,384.6L796.8,389.7L797.6,394.8L801.9,394.8L801.9,418.5L790,408.3L783.2,405.8L766.3,408.3L759.5,396.5L754.4,386.3L761.2,377.8L761.2,367.7ZM695.2,243.7C695.2,243.0 696.0,242.0 696.5,242C697.0,242.0 697.9,243.0 697.9,243.7C697.9,244.4 697.0,246.1 696.5,246.1C696.0,246.1 695.2,244.4 695.2,243.7ZM779.1,906.2L786.8,902.8L793.7,900.2L795.4,890.8L802.2,882.2L809.1,877.1L815.1,876.3L820.2,882.2L822.8,892.5L823.1,904.5L818.5,910.5L810.8,914.8L802.2,915.1L793.7,913.1L785.1,912.2L779.1,909.6ZM942.9,930.2L946.9,923.3L951.1,914.8L958,908.8L966.5,905.9L975.1,904.2L981.9,905.9L987.1,913.1L987.9,921.6L983.6,928.5L978.5,933.6L975.1,937L968.2,935.3L958,936.2L951.1,934.4L946,932.7ZM1000.8,947.3L1002.5,940.4L1004.2,930.2L1007.6,925.9L1011,925L1011,950.7L1004.2,950.4ZM877.5,998.6L878.4,990.9L882.7,986.6L889.5,982.4L890.4,972.9L894.7,967.8L903.2,965.2L913.5,962.7L925.5,961L934.9,956.2L942.6,959.3L951.1,958.4L959.7,955L968.2,953.3L975.1,945.6L981.1,949.8L987.9,955.8L983.6,961L978.5,964.4L985.4,970.4L992.2,972.6L1011,972.1L1011,1019.2L1007.6,1010.6L1004.2,1005.5L997.3,998.6L988.8,993.5L981.9,988.3L975.1,983.2L968.2,979.8L961.4,978.1L955.4,981.5L961.4,985.8L968.2,990.1L964.8,998.6L963.1,1008.9L961.4,1014L960.5,1019.2L892.1,1019.2L889.5,1010.6L884.4,1005.5ZM779.1,981.5L786.8,984.1L795.4,987.5L805.7,990.1L817.6,993.5L823.6,996.9L824.2,1001.2L821.1,1007.2L814.2,1012.3L808.2,1014.9L804,1010.6L800.9,1005.5L801.4,1002L793.7,1000.3L786.8,999L779.1,999ZM779.1,962.7L786.8,964.4L788.2,968.7L779.1,968.7ZM850,653.7L853.5,646.8L860.3,643.4L867.1,640.9L874,639.1L889.4,639.1L887.7,646.8L882.5,653.7L874,657.1L867.1,662.2L859.4,666.5L853.5,661.4ZM882.2,687.9L886,682.8L891.1,678.5L898.8,678.5L900,684.5L899.3,689.6L891.1,691.3L886,691.3ZM895.4,705.9L897.9,699L903.1,694.8L906.5,693.4L908.6,699.9L909.1,708.5L907.4,717L907.4,723L904.8,723.9L901.4,718.7L897.1,713.6ZM933,739.3L934.7,733.3L938.2,728.1L944.2,729L952.7,734.1L959.6,741L963.8,746.1L959.6,751.2L954.4,756.4L945.9,758.9L939,758.1L935.6,752.9L933.9,746.1ZM969.8,749.5L971.5,744.7L978.4,745.2L983.5,748.7L986.9,752.9L984.9,761.5L984.4,770.1L985.6,778.6L981.8,782L975.8,781.7L971.5,778.6L970.7,766.6L971.5,758.1ZM990,701.6L993.8,697.3L999.8,693.9L1005.8,694.8L1010.9,691.3L1016,690.5L1016,705L1009.2,705.9L1002.3,708.5L997.2,707.6L992.1,705.9ZM1007.5,657.1L1010.9,654.5L1016,653.7L1016,674.2L1010.9,672.5L1007.1,665.7ZM967.3,639.1L977.5,639.1L972.4,645.1L968.1,645.1ZM1009.2,639.1L1016,639.1L1016,648.6L1009.2,648.6ZM936.5,639.1L945.9,639.1L944.2,642.6L939,641.4ZM812.9,762.4C813.0,761.3 814.5,760.0 815.8,759.4C817.1,758.8 819.8,758.1 820.9,758.9C822.0,759.7 822.4,762.8 822.3,764.1C822.2,765.5 821.3,766.7 820.1,767C818.9,767.3 816.1,766.6 814.9,765.8C813.7,765.0 812.8,763.5 812.9,762.4ZM810.2,788.9C810.5,788.0 811.5,786.1 812.4,785.8C813.3,785.5 815.2,786.4 815.8,787.2C816.4,788.0 816.5,789.8 816.1,790.6C815.7,791.5 814.1,792.2 813.2,792.3C812.3,792.3 811.2,791.5 810.7,790.9C810.2,790.3 809.9,789.8 810.2,788.9ZM991.2,820.5L995.5,819.7L996.3,821.4L993.4,824ZM977.5,711L978.7,711L978.7,715L977.7,715ZM888.4,419.1L887.5,426.8L883.3,433.7L880.7,442.2L885.8,453.4L885,459.4L888.4,468.8L891.8,468.8L896.1,461.1L896.4,451.7L902.9,444L912.9,452.5L912.4,461.1L916.6,463.6L926,473.1L929.5,480.8L935.5,485.9L942.3,489.3L947.1,495.3L946.6,503.5L935.5,504.7L923.5,503.9L916.6,497L903.8,503L904.3,513.3L899.5,521L898.3,527.8L904.7,532.9L911.5,539.8L916.6,540.6L920.1,534.7L923.5,529.2L928.6,536.4L932,544.1L925.2,550.9L916.6,553.5L912.4,563.8L910.6,578.3L899.5,589.4L897,597.1L894.4,619.4L891,622.8L882.4,618.5L872.1,611.7L864.4,605.7L860.2,598.8L857.6,593.7L852.5,587.7L848.2,587.4L843.1,592.8L839.6,597.1L831.1,597.1L829,592L825.9,585.1L818.2,579.2L813.1,586L821.7,592L825.1,598L820.8,606.5L814,615.1L806.3,619.4L800.3,615.1L796.8,608.2L795.1,596.3L793.4,591.1L789.1,588.6L789.1,488.5L802,490.5L812.2,486.7L820.8,479L827.6,476.5L826.8,470.5L815.7,463.6L807.1,456.8L802.3,453.4L807.1,438.8L810.5,427.7L798.6,419.1ZM974.8,443.1L986.8,438L994.5,431.1L1000.5,426.8L1007.3,426L1014.2,431.1L1017.6,442.2L1018.5,449.1L1012.5,456.8L1002.2,462.8L993.6,467.9L987.7,473.9L982.5,474.8L975.7,468.8L980,463.6L983,456.8L981.7,449.9ZM945.7,509.8C945.6,508.4 946.9,507.1 948.3,506.4C949.7,505.7 952.5,505.0 954.3,505.6C956.1,506.2 959.0,508.4 959.1,509.8C959.2,511.2 956.8,513.2 955.1,514.1C953.5,515.0 950.8,515.7 949.2,515C947.6,514.3 945.9,511.2 945.7,509.8ZM959.4,519.3L968,512.1L974.8,517.5L983.4,520.1L991.9,516.7L1000.5,515L1009,515.8L1021,522.7L1021,598L1010.8,594.6L1000.5,592.8L996.2,586L997.9,574L994.5,566.3L981.7,561.2L973.1,551.8L966.3,544.9L960.3,538.1L958.6,527.8ZM938.9,561.2C939.2,560.2 940.4,558.5 941.5,557.8C942.6,557.1 944.1,556.5 945.7,556.9C947.3,557.3 950.2,559.1 950.9,560.3C951.6,561.4 951.1,562.9 950,563.8C948.9,564.7 945.7,565.5 944,565.5C942.3,565.5 940.6,564.5 939.7,563.8C938.9,563.1 938.6,562.2 938.9,561.2ZM932.9,629.6L937.2,625.4L942.3,626.2L945.7,630.5L947.8,640.8L935.5,640.8ZM966.3,640.8L969.7,629.6L975.7,624.5L980.8,627.1L978.2,635.6L975.7,640.8ZM1012.5,640.8L1014.2,632.2L1021,625.4L1021,640.8ZM870.4,640.8L882.4,633.6L890.1,638.2L891,640.8ZM789.1,627.9L795.1,628.4L796,630.5L789.1,632.2ZM799.1,222.2L812,219.2L853.1,219.2L853.1,226.5L844.5,235.9L832.5,239.4L828.2,243.6L828.2,249.6L833.4,259.9L844.5,267.6L846.5,273.6L847.1,292.4L849.6,302.7L856.5,307.5L868.5,306.1L882.1,304L889,299.3L895,291.6L906.1,288.1L916.4,290.4L931.8,300.6L923.2,307.8L919.8,313.3L917.2,319.8L912.9,327.5L902.7,335.2L895,342L891.6,350.6L890.7,359.2L893.8,367.7L891.6,372.8L885.6,377.1L877.9,378L874.4,383.1L871,391.7L864.2,392.5L859.9,383.1L852.2,368.6L856.1,360.9L855.6,353.2L850.5,350.6L844.2,354L841.1,347.2L836.8,333.5L830.5,327.5L827.4,311.2L824,309.2L818.8,309.5L808.6,317.2L800,318.1L799.1,318.1ZM876.2,217.1L889.8,217.1L890.7,225.7L887.3,229.4L880.4,229.9L877,225.7ZM1018.2,216.3L1030.3,216.3L1030.3,275.3L1020.8,278.7L1012.2,280.8L1005.4,287.3L999.4,295.8L992.5,305.2L985.7,306.1L978,299.3L966.9,296.2L958.3,290.7L954,283.9L954.9,275.3L960,269.3L971.1,263.3L979.7,258.2L988.2,249.6L995.1,238.5L1003.6,235.1L1012.2,225.7ZM923.2,343.8L924.9,336.9L930.9,331.8L940.3,330.1L950.6,331.4L954.9,335.2L956.6,342L964.3,349.7L968.6,358.3L966.9,368.6L960,376.3L950.6,384L944.6,391.7L942,399.4L942,407.9L938.6,413.9L931.8,416L922.4,413.9L918.1,407.9L918.1,401.9L913.8,396.8L912.1,384.8L907,376.3L909.5,368.6L914.7,360.9L921.5,358.3L927.5,361.7L933.5,367.7L936,366.9L937.8,360L931.8,355.7L926.6,353.2ZM990.8,330.1L993.4,326.6L1000.2,326.3L1003.6,328L1013.9,327L1019.9,329.2L1021.6,332.6L1019,338.6L1013.1,342.9L1009.6,348.9L1003.6,353.2L998.5,354.9L994.2,351.5L990.8,345.5L988.2,342ZM799.1,394.2L806.8,394.2L813.7,396.8L816.3,405.4L817.1,420.8L799.1,420.8ZM799.1,367.7L805.1,369.4L807.2,374.6L805.1,378.8L799.1,383.1ZM843.6,420.8L844.2,410.5L849.6,402.8L857.3,395.9L864.2,405.4L875.3,404.5L885.6,401.1L893.3,399.4L897.2,402.8L893.3,408.8L889,418.2L888.1,420.8Z"/>
<path fill="#d8b46c" d="M1048,920.2L1052.8,913.1L1061.3,906.2L1068.2,907.1L1069.9,914.8L1073.3,922.5L1074.2,928.8L1066.5,928.5L1061.3,925L1055.3,921.6ZM1180.3,976.4L1184.6,972.9L1191.4,970.9L1198.2,967.8L1203.4,965.2L1211.1,966.1L1205.1,971.2L1199.1,978.1L1192.3,984.6L1186.3,983.6L1182.8,979.8ZM1227.3,991.8L1230.8,987.5L1230.8,991.8ZM1014.1,650.3L1022.7,651.6L1018.4,653.7L1014.1,653.7ZM518.2,953.3L526.7,954.1L527.1,964.7L518.2,964.7ZM359.6,639.1L359.2,645.1L352.4,652L347.2,658.8L346.4,670.8L340.4,677.6L331.8,681.1L324.1,685.3L324.1,650.3L328.4,647.7L324.1,644.8L324.1,639.1ZM360.1,639.1L384,639.1L393.5,642.6L412.3,640L432.8,639.1L432,645.1L424.3,652L415.7,660.5L414.8,667.4L420,674.2L420.8,684.5L416.6,690.5L411.4,695.1L405.4,693.1L402,686.2L398.6,678.5L393.5,672.5L390.9,666.5L395.2,661.4L396.5,657.1L393.5,648.6L389.2,654.5L383.2,658.8L376.3,658.8L371.2,652.8L367.8,645.1L360.1,644.3ZM461.9,639.1L480.7,639.1L477.3,643.4L470.5,644.8L465.3,645.1ZM347.2,716.2L355.8,710.2L364.4,707.6L372.1,707.1L376.3,710.2L376.9,716.2L371.2,721.3L366.1,728.1L361.8,729.8L357.5,729L352.4,722.1ZM324.1,716.2L327.1,720.4L327.6,729L324.1,737.5ZM324.1,776L331.8,776.9L338.7,774.9L347.2,775.2L362.6,774.3L367.8,777.8L372.9,783.8L376.3,788L379.8,794L379.4,802.6L376.3,811.1L374.3,818L378.1,822.3L380.6,826.5L378.9,835.1L384.9,835.1L394.3,832L400.3,836.8L403.7,844.5L402,852.2L393.5,860.8L324.1,860.8ZM413.1,835.1L419.1,829.1L424.3,826.9L431.1,828.2L437.9,824.8L444.8,824.5L448.2,823.5L453.3,826.5L461,828.6L456.8,830L449.9,830.8L443.1,833.4L434.5,838.5L431.1,845.4L428.5,852.2L426,857.3L420.8,853.9L415.7,847.9L413.6,841.9ZM402,793.2L403,793.2L403,795L402,795ZM455.1,760.3L456.1,760.3L456.1,762.2L455.1,762.2ZM459.2,423.8L464.3,421.7L469,423.8L464.3,426ZM514,576.6L519.1,574L522.5,582.6L523,593.7L518.2,594.6L515.7,584.3ZM535.4,630.5C535.4,628.9 536.5,627.7 537.9,627.1C539.3,626.5 542.0,626.3 543.9,626.7C545.8,627.1 547.8,628.1 549,629.6C550.2,631.1 551.1,633.9 551.1,635.6C551.1,637.4 550.5,639.5 549,640.1C547.5,640.7 544.1,639.6 542.2,639C540.4,638.4 539.0,637.9 537.9,636.5C536.8,635.1 535.4,632.1 535.4,630.5ZM781,859.1L781,1019.2L749.4,1019.2L748.5,1010.6L745.1,1005.5L741.3,998.6L744.2,990.1L745.9,981.5L741.7,972.9L736.5,966.1L731.4,961L731.4,955.8L734,943.9L734,935.3L726.3,926.7L726.3,911.3L735.7,909.6L737.4,901.1L740,890.8L744.2,882.2L743.4,875.4L738.2,866.8L732.3,859.1ZM711.7,1019.2L714.3,1014.9L721.1,1014.9L722.8,1019.2ZM769.8,639.1L786,639.1L786,860.8L733,860.8L726.1,853.9L720.1,843.6L717.6,833.4L716.7,825.7L721,820.5L726.1,816.3L727.8,812.8L724.4,802.6L720.1,788.9L727.8,793.2L736.4,797.4L740.7,802.6L741.9,809.4L739,816.3L739.8,823.1L743.2,827.4L747.5,829.1L753.5,825.7L757.8,821.4L760.4,814.6L757.8,806.9L755.2,797.4L751.8,787.2L749.2,778.6L750.1,766.6L753.5,756.4L751.8,746.1L749.2,739.3L753.5,735L760.4,731.6L755.2,726.4L746.7,723.9L739,724.2L733.8,723L736.4,713.6L741.5,706.7L744.1,696.5L746.7,687.9L753.5,685.9L762.9,684.8L768.1,680.2L769.8,670.8L768.9,657.1ZM566.6,804.3L572.1,803.9L576.9,805.1L574.7,809.1L570.4,806.9ZM791,419.1L791,487.6L787.3,486.6L781.8,484L778.5,478.5L778,472L773.2,471L772,468.8L767.8,471L760.7,473.7L755.4,467.7L754.7,463.5L750.3,460.7L750.3,444L746.2,444L745.2,453.9L740.7,459L731.1,460.7L727.4,463.6L720.3,461.8L712.8,457.5L708.5,452.7L707.2,444.1L709.1,436.4L712.8,431.1L715.9,424.6L719.8,419.1ZM738,603.1L739.7,596.3L742.3,586.9L746.5,580.9L753.4,579.2L760.2,580.9L773.9,584.3L780.8,588.6L791,590.3L791,640.8L772.2,640.8L771.3,631.3L760.2,619.4L751.7,610L745.7,607.4ZM663,546.6L668.7,546.3L671.2,551.8L672.6,554.3L667.8,556.9L664.4,552.6ZM655.4,283.7L659.6,283.7L657.6,285.7ZM604.6,351.2L606.6,349L608.5,351.6L606.4,353.8ZM792.6,580L797.7,574.9L802.8,580L800.3,587.7L795.1,588.6Z"/>
<path fill="#f4f5f5" d="M277.3,689.6L279.8,682.8L283.2,675.9L286.7,670.8L289.2,677.6L290.1,684.5L288.4,691.3L283.2,692.2ZM267.8,813.2L269.2,812.8L269.9,815.6L268.5,815.9ZM181.8,810.4L183,810.4L183,811.8L181.8,811.8ZM1107.8,734.1L1110.8,732.8L1113.9,735L1111.2,737.2ZM1149.2,455.9L1155.2,451.7L1161.2,455.9L1156,462.8ZM456,859.1L468,859.1L467.2,865.1L463.8,869.4L460.3,870.3L457.8,866ZM509.1,859.1L520.2,859.1L518.5,863.4L514.2,866L510.8,864.3ZM506.2,876.3L507.9,876.3L507.9,880.9L506.2,880.9ZM342.2,1001.2L344,1001.2L344,1003.8L342.2,1003.8ZM380.2,867.4L381.6,867.4L381.6,868.6L380.2,868.6ZM395.2,724.7L396,717.9L403.7,714.4L415.7,710.2L426,707.6L434.5,701.6L435.4,694.8L437.1,681.9L443.1,681.1L451.6,686.2L461,690.5L461.9,699L463.6,703.3L475.6,705.9L484.2,705L494.4,705.9L501.3,710.2L509,717.9L516.7,717L521.5,720.4L520.1,729L514.1,737.5L509.8,746.1L514.1,753.8L515.8,761.5L521.8,768.3L530.4,776.9L538.9,785.5L538.9,795.7L536.3,804.3L544,809.4L549.2,818L549.2,828.2L545.8,836.8L537.2,841.9L530.4,852.2L527.8,860.8L508.1,860.8L509,845.4L515,836.8L520.9,828.2L522.7,821.4L518.4,820.5L506.4,824.8L496.1,825.7L487.6,829.1L479,821.4L474.7,812.8L467,804.3L461,795.7L451.6,792.3L443.1,785.5L436.2,782.9L434.5,792.3L429.4,798.3L425.1,792.3L420.8,787.2L412.3,776.9L403.7,768.3L402,751.2L401.2,735.8ZM506.4,691.3L509.8,685.3L515,688.8L521.8,694.8L516.7,696.8L507.3,696.1ZM388,778.6L389.7,776.9L390.9,782L390.4,802.6L388.3,803.4ZM419.1,810.3L421.7,807.7L424.3,811.1L420.8,812ZM456.8,860.8L460.2,853.1L467,860.8ZM551.7,662.2L556,654.5L556,663.1ZM457.5,475.6L460.9,467.1L468.6,470.5L475.5,470.5L478.9,464.5L487.4,456.3L494.3,460.2L501.1,460.7L508.8,456.8L511.7,461.1L509.7,469.6L507.1,476.5L514.8,480.8L520,485.9L526.8,488.5L530.6,492.7L528.5,497L521.7,497.9L514,494.4L504.6,497.9L494.3,502.1L494.3,510.7L496.9,518.4L494.3,525.2L488.3,529.5L478.9,529.9L472,527.8L466,521L460.9,516.7L467.8,509L460.1,503.9L460.9,493.6L459.7,483.3ZM531.9,485C531.8,484.1 532.2,481.7 533.6,480.8C535.0,479.9 538.9,479.3 540.5,479.9C542.1,480.5 543.0,483.1 543.1,484.2C543.2,485.3 542.7,486.3 541.3,486.7C539.9,487.1 536.1,486.7 534.5,486.4C532.9,486.1 532.0,485.9 531.9,485ZM544.8,460.2L549,459.4L548.2,461.9L545.3,461.9ZM540.1,527L545.6,522.3L549.9,529.5L552.8,536.4L547.3,536.4L543.1,531.2ZM477.2,542.4L484,541.2L492.6,542.4L498.6,548.3L501.1,551.8L499.4,556L492.6,553.5L487.4,547.5ZM454.9,567.2L459.7,560.7L463.8,567.2L461.8,572.3L458.3,573.2ZM543.9,538.1L546,538.1L546.5,562L543.6,562ZM535.4,575.7L543.9,572.3L551.6,568.9L554.2,574L561,584.3L561,640.8L550.8,616.8L545.6,610L535.4,604.8L534,586ZM563.3,898.5L564,885.7L565.4,875.4L568.8,872L575.7,874.5L580.8,880.5L583.4,889.1L589.4,894.2L599.6,895.9L607.3,900.2L610.8,906.2L610.8,913.9L606.5,921.6L600.5,927.6L592.8,927.6L586.8,925.9L580.8,928.5L574.8,928.5L569.7,923.3L565.4,914.8ZM650.1,898.5L651,887.4L654.4,881.9L659.5,883.1L663.8,889.1L662.9,897.6L661.2,904.5L657,911.3L653.5,914.8L651.8,908.8ZM659,919.6L660.4,919L661.6,922.5L659.5,925ZM679.2,948.1C679.1,945.5 680.3,943.0 680.9,940.4C681.5,937.8 681.6,934.6 682.6,932.7C683.6,930.9 685.0,930.2 686.9,929.3C688.8,928.4 691.7,927.4 693.8,927.3C695.9,927.2 698.2,927.5 699.7,928.5C701.2,929.5 702.1,931.0 702.8,933.6C703.5,936.2 703.8,940.8 703.7,943.9C703.6,947.0 703.7,950.0 702.3,952.4C700.9,954.8 697.8,956.7 695.5,958.4C693.2,960.1 690.5,962.3 688.6,962.7C686.7,963.1 685.4,962.1 684.3,961C683.2,959.9 682.6,957.9 681.8,955.8C680.9,953.6 679.4,950.7 679.2,948.1ZM564.5,972.9L572.2,972.1L577.4,966.1L580.8,959.3L584.2,953.3L589.4,955L599.6,960.1L615,962.7L630.4,963.5L634.7,964.7L630.4,969.5L624.4,976.4L620.2,983.2L615,991.8L609.9,999.5L604.8,1003.8L594.5,1006.8L585.9,1004.6L575.7,1000.3L570.9,993.5L570.2,986.6L573.1,979.8L571.4,977.2L565.4,975.5ZM599.8,639.1L620.9,639.1L614.9,643.4L608.1,646.5L604.6,645.1L600.9,643.1ZM650,639.1L691.9,639.1L686.8,643.4L679.9,645.1L674.8,647.2L671.4,644.3L664.5,640.9L657.7,642.6L652.5,641.7ZM560.1,711.9L568.7,710.2L575.5,709.3L580.7,703.3L589.2,696.8L596.1,703.3L599.8,711.9L602.1,720.4L594.4,722.1L582.4,724.2L573.8,722.1L567,717.9ZM600.9,788L608.1,786.3L614,782.9L618,788L616.3,792.6L609.8,792.8ZM702.2,764.9C702.2,762.8 702.8,761.1 703.9,759.8C705.0,758.5 707.1,757.2 709,757.2C710.9,757.2 713.8,758.2 715,759.8C716.2,761.4 716.3,764.5 716.2,766.6C716.1,768.7 715.4,771.3 714.2,772.6C713.0,773.9 710.7,774.3 709,774.3C707.3,774.3 705.0,774.2 703.9,772.6C702.8,771.0 702.2,767.0 702.2,764.9ZM671.4,797.4L674.8,791.5L682,788L682.5,802.6L683.7,808.6L682.5,815.4L678.2,812L673.9,806ZM636.8,840.2L641.4,830.8L647.4,836.8L648.3,841.1L642.3,842.3ZM581.4,595.4L584.8,584.3L585.7,570.6L589.9,563.8L596.8,563.4L604.5,556L610.5,550.1L612.2,534.7L619,528.7L625,526.1L627.6,509L633.6,508.1L652.4,508.1L653.3,515.8L652.4,522.7L655,527.8L649,531.2L643.9,532.9L641.3,537.2L643.9,541.5L650.7,545.8L653.3,555.2L658.4,562L663.5,568.9L667.8,577.4L666.1,582.6L660.1,588.6L658.9,595.4L662.7,603.1L669.5,613.4L673.8,612.5L676.4,604L682.4,600L690.1,604L696,611.7L696.9,623.6L695.2,640.8L649,640.8L642.1,634.8L634.4,633.1L623.3,640.8L602.8,640.8L589.9,632.2L590.5,619.4L589.1,611.7L585.2,608.9ZM534.3,600.4L534.5,587.4L535.6,576.6L537.7,573.9L544.2,571.8L551.2,569.1L553.3,572.3L556,578.8L558.7,585.3L559.3,593.9L562,600.4L563,610.1L564.7,615.4L569,623L575.4,630.5L579.8,634.8L584.1,633.8L587.3,631.6L593.8,631.6L599.2,637L601.8,643.5L601.3,647.8L598.1,652.1L593.8,659.6L591.1,663.9L590,673.6L583,677.4L573.3,673.6L564.7,669.9L557.1,665L552.3,661.8L553.9,653.2L555.5,645.6L558.7,639.2L559.1,632.7L556,626.2L550.7,620.8L547.4,614.4L544.2,609.5L536.6,606ZM615.6,444C615.3,442.3 615.6,437.5 616.5,435.4C617.4,433.3 618.2,432.3 620.8,431.6C623.4,430.9 629.7,430.3 631.9,431.1C634.1,431.9 634.0,434.3 633.9,436.3C633.8,438.3 632.3,441.5 631,443.1C629.7,444.7 628.0,445.6 625.9,446C623.8,446.4 619.9,446.0 618.2,445.7C616.5,445.4 615.9,445.7 615.6,444ZM577.1,474.8L578.5,472.7L579.9,475.6L579.2,479.6L577.5,479ZM581.4,498.7C581.3,496.1 581.2,492.5 581.9,490.2C582.6,487.9 584.1,485.4 585.7,485C587.3,484.6 589.6,486.2 591.7,487.6C593.8,489.0 596.6,491.5 598.5,493.6C600.4,495.7 602.1,498.4 602.8,500.4C603.4,502.4 603.4,503.7 602.4,505.6C601.4,507.5 598.7,510.1 596.8,511.6C594.9,513.1 592.6,514.6 590.8,514.5C588.9,514.4 587.1,512.2 585.7,510.7C584.3,509.2 582.9,507.6 582.2,505.6C581.5,503.6 581.5,501.3 581.4,498.7ZM606.2,495.3L609.6,492.2L613.9,494.4L611.3,498.4L608.8,497.9ZM642.1,469.6L649,465.3L654.1,466.2L658.9,469.6L652.4,473.1L646.4,477.3L644.7,488.5L642.5,488.5ZM662.3,485L663.9,485L663.5,488.5L662.3,488.5ZM667,524.7L669.9,524L669.9,538.1L667.5,538.1ZM672.1,520.1L675.5,518.9L676.7,521L672.9,521.3ZM760.2,519.3L773.9,517.9L791,518.4L791,539.8L785.9,546.6L777.3,553.5L767.9,556L763.6,553.5L765.4,543.2L762.8,532.9L760.2,526.1ZM738.3,561.7L741.7,561.2L741.7,562.9L738.3,563.1ZM619,401.5L624,393.1L630.8,390.5L642.7,385.5L649.4,382.1L654.5,384.6L663,388L669.8,385.5L670.6,377.8L674,375.3L677.9,377L678.2,384.6L681.6,391.4L684.2,399.8L684.8,420L683.2,426.8L679.8,430.3L674.7,429.4L671.2,424.3L669.5,420L659.9,416.1L645.6,420L643.9,425.1L637.9,429.4L635.3,425.1L633.6,420L624,408.3ZM704.5,310.1C704.6,307.8 705.1,305.3 706.2,303.3C707.3,301.3 708.9,299.3 711.3,298.2C713.7,297.1 717.6,296.8 720.6,296.9C723.6,297.0 726.8,297.8 729,299.1C731.2,300.5 733.0,303.2 734.1,305C735.2,306.8 736.1,308.4 735.8,310.1C735.5,311.8 734.1,313.8 732.4,315.2C730.7,316.6 727.7,317.2 725.7,318.6C723.7,320.0 722.6,322.5 720.6,323.6C718.6,324.7 715.9,325.3 713.8,325C711.7,324.7 709.3,323.2 707.9,321.9C706.5,320.5 705.9,318.9 705.3,316.9C704.7,314.9 704.4,312.4 704.5,310.1ZM776,376.1C776.1,374.5 776.7,372.4 777.8,371.4C778.9,370.4 780.9,369.9 782.4,369.9C783.9,369.9 786.0,370.4 787,371.4C788.0,372.4 788.8,374.6 788.7,376.1C788.6,377.6 787.8,379.3 786.6,380.4C785.4,381.5 783.0,382.5 781.5,382.6C780.0,382.7 778.2,382.0 777.3,380.9C776.4,379.8 775.9,377.7 776,376.1ZM959.3,922.5L961.4,916.5L964.8,913.1L971.7,911.7L976.8,913.9L976.8,919L973.4,923.3L968.2,925L963.1,924.2ZM900.6,990.1L902.4,979.8L906.6,972.9L913.5,970.9L921.2,972.6L923.8,979.8L925.5,988.3L928.9,995.2L930.9,998.6L927.2,1002.4L916.9,1003.8L911.8,1008L906.6,1009.7L902.4,1007.2L904.9,1000.3L901.8,995.2ZM933.2,1006.3L936.6,1003.8L941.7,1002.9L945.7,1006.3L942.6,1010.6L937.4,1009.2ZM808,507.3L812.2,502.1L819.1,500.1L824.2,503.9L826.3,509.8L823.4,516.7L815.7,521L808,521.8L800.3,522.7L793.4,529.5L789.1,533.8L789.1,518.4L796.8,519.3L802,515.8ZM801.7,269.3L804.3,263.7L810.3,263.3L817.1,269.3L824.8,276.7L818.8,283L812,281.3L803.4,277.9ZM823.8,292.9C823.8,292.5 824.5,291.9 824.8,291.9C825.1,291.9 825.8,292.5 825.8,292.9C825.8,293.2 825.1,294.0 824.8,294C824.5,294.0 823.8,293.2 823.8,292.9ZM966,280.4C965.7,278.3 966.3,275.3 967.4,273.9C968.5,272.5 970.8,272.2 972.8,271.9C974.8,271.6 977.8,271.5 979.7,272.2C981.6,272.9 983.0,274.5 984,276.2C985.0,277.9 986.1,280.2 985.7,282.1C985.3,284.0 983.0,286.2 981.4,287.3C979.8,288.4 978.3,289.1 976.3,289C974.3,288.9 971.1,287.8 969.4,286.4C967.7,285.0 966.3,282.5 966,280.4Z"/>
<path fill="#f3e4bb" d="M441.4,711C441.8,709.6 444.8,708.4 446.5,708.1C448.2,707.8 450.6,708.5 451.6,709.3C452.6,710.1 453.1,711.5 452.5,712.7C451.9,713.9 449.6,716.1 448.2,716.7C446.8,717.3 445.0,717.2 443.9,716.2C442.8,715.2 441.0,712.4 441.4,711ZM752.8,982.4L756.2,976.4L757.1,962.7L759.6,953.3L765.6,949.8L772.5,950.7L777.6,955.8L781,961L781,969.5L774.2,971.2L769,976.4L765.6,983.2L760.5,987L755.4,985.8ZM776.7,991.8L781,979.8L781,998.6L778.5,996.9ZM672.9,627.9L675.5,621.9L679.8,628.8L676.4,633.1Z"/>
<path fill="#bfe7e1" d="M493.4,469.3L494.8,469.3L494.8,476.5L493.4,476.5ZM641.8,517.2L643.9,517.2L643.9,521L641.8,521ZM708.2,308.4L709.6,305L715.5,303L722.3,304.7L729,310.1L722.3,314.3L715.5,319.9L711.3,316.9L708.2,312.6Z"/>
</g>
<path fill="none" stroke="#808080" stroke-width="1.55" stroke-linejoin="round" d="M130.2,361.1L250,365.3L352,369.1M105.1,911L125.9,883.6L213.2,886.9L244,887.4L278.2,887.4L320,889.1M300.5,860L295.4,861.7L294.5,867.7L292.8,871.6L286.8,873.7L280,875.4L277.9,878.8L279.1,885.7L277.4,889.9L271.4,894.2L269.3,898.5L268.8,906.2L267.1,913.1L266.3,919.9L264.6,926.7L259.4,928.5L255.1,933.6L253.4,938.7L247.4,941.8L240.6,943L237.5,947.3L236.3,954.1L233.8,961L230.3,966.1L223.5,969.5L221.8,973.8L222.1,983.2L220.1,990.1L217.5,996.9L214.9,1003.8L210.6,1008.9L208.1,1010.6L207.7,1012.8M95,706.7L112.1,707.9L218.6,712.2L219.9,678.5L221.3,646L237,640M219.9,678.5L325,681.6M111.3,777.4L284.1,785.1L283.2,792.3L293.5,792.3L293.2,806L291.5,809.4L293.5,813.7L299.5,814.6L300.4,818L308.1,818.8L310.6,824L316.6,828.2L317.5,835.1L325,838.5M284.1,785.1L285.8,780.3L286.3,770.9L280.7,767.5L278.1,764.9L273.8,763.2L263.6,762.9L262.4,757.2L260.1,756.4L260.1,751.2L256.7,747.8L325,749.5M108.7,832.9L143.8,834.2L144.3,831.3L233.6,834.7L236.2,838.5L240.5,849.6L245.6,847.9L252.4,847.4L256.7,843.6L260.1,845.4L264.4,844.5L267.8,843.6L274.7,843.6L279,847.9L283.2,849.6L289.2,854.8L294.4,860.1M317.5,835.1L314,839.4L308.9,844.5L307.2,852.2L302.1,853.9L301.2,860.1M125.3,474.1L145.3,475.1L146.2,477.3L200.1,479.4L200.1,470.8L296.3,473.6L296.8,447.4L330,447M122.2,532.9L330,541.2M236.9,640.1L257.4,632.2L261.7,627.1L266.9,620.2L267.7,616.8L276.3,608.2L286.5,601.7L296.8,600.5L304.5,598.3L312.2,600.5L318.2,605.2L324.2,601.4L330,598M1010,860L1010.9,892.2L1062.2,891.7L1115.2,889.9L1227,886.9M1114.4,860L1115.2,889.9M1062.2,891.7L1064.4,943.9L1062.7,944.7L1063.9,1020M1043.2,640L1044.1,680.2L1042.7,681.1L1043.2,713.9L1015,715M1043.2,696.1L1219.8,691M1015,767.5L1112.5,765.3L1222.1,761.2M1112.5,765.3L1115.1,853.9L1114.3,860.1M1112.4,215.1L1113.8,242.8L1114.1,271.9L1112.4,272.7L1112.4,282.1L1113.8,325.8M1114.5,263.3L1205.7,260.8M1020,328.7L1096.2,327L1206.9,323.2M1096.2,327L1096.5,343.8L1094.4,344.6L1095.3,413.9L1094.4,420.1M1094.4,420L1097,502.1M1020,504.4L1041.9,504.7L1097,502.1L1213,497.9M1041.9,504.7L1043.6,592L1042.6,592.8L1043.1,640.8M1043.1,610.3L1216.8,604.5M360.2,860L359.7,863.4L356.8,864.3L355.1,890.8L355.1,934.4L352.5,1017.4M320,889.4L355.1,890.8M355.1,933.9L411.6,935.3L412.4,884.8L409.8,884L411.6,860M411.6,935.3L411.6,941.3L478.3,942.1L479.2,888.2L481.7,887.4L482.9,860M478.3,940.8L550,942.5M483.9,941.3L482.9,976.4L496.3,983.2L497.1,993.5L513.4,1020.9M499.7,860L499.7,871.1L550,872.3M360.1,640L358.4,681.9L356.7,756.4L336.1,756L335.3,749.5L325,749.2M325,681.6L358.4,682.3M336.1,756L342.1,766.6L345.5,787.2L434.5,789.4L436.6,733.8L555,736.2M434.5,789.4L434.2,826.5M345.5,787.2L343.8,790.6L346.4,800L350.7,801.7L353.2,805.1L349,811.1L347.2,815.4L342.1,818L340.4,821.4L341.3,824L347.2,826.5L349.8,831.7L350.7,837.7L349,843.6L352.4,850.5L357.5,853.9L360.1,860.1M341.3,824L332.7,824.5L331.8,833.4L325,837.7M411.4,860.1L412.3,830.8L417.4,830L419.1,827.4L424.3,826.5L427.7,829.1L432.8,829.1L436.2,825.7L439.3,824.5L443.1,828.2L448.2,826.5L452.5,827.4L456.8,835.1L465.3,837.7L470.5,842.8L475.6,842.8L482.4,846.2L483.8,853.9L500.4,853.9L500.4,860.1M483.8,853.9L483.8,860.1M545.8,640L544,643.4L538.9,649.4L533.8,654.5L530.4,656.3L529.5,669.1L527.8,675.9L524.9,680.7L526.9,687.1L532.1,691.3L537.2,697.3L539.8,705L540.6,715.3L543.2,720.4L546.6,723L550.9,729L555,732.4M330,447.4L375.9,449.1L376.5,431.1L393.7,431.6L393.7,420M438.2,420L438.2,432L425.8,432.3L423.3,543.2M425.8,432.3L501.1,432.8L501.6,420M501.1,432.8L537.1,432.8L537.9,434.5L560,435.4M530.6,433.7L531.9,442.2L534.5,452.5L537.9,461.1L542.2,466.2L546.5,468.8L550.8,473.1L554.2,478.2L560,483.3M330,541.2L423.3,543.2L530.2,546.6L532.8,543.6L535.4,542.4L539.6,546.6L547.3,546.6L552.5,548.7L560,545.8M530.2,546.6L528.5,555.2L520,556.9L518.2,562L520.8,565.5L520,570.6L518.2,580.9L515.7,586L508.8,587.7L508,598L504.6,601.4L505.4,608.2L502.8,610L502.5,619.4M505.4,607.7L560,608.8M373.6,542.4L372.8,546.6L367.6,551.8L371.9,556L378.8,556.9L380.5,561.2L377.9,564.6L380.5,568.9L381.3,575.7L384.8,580.9L391.6,584.3L395,592.8L429.3,593.7L436.1,599.7L440.4,604.8L439.5,609.1L443.8,611.7L447.2,615.1L453.2,619.4L457.5,619.4L460.1,616.8L461.8,620.2L466,622.8L471.2,622.8L475.5,617.7L478.9,610.8L485.7,609.1L487.4,608.2L492.6,610L496,615.1L501.1,619.9L508,619.4L512.3,623.6L515.7,629.6L521.7,634.8L526.8,634.8L531.9,633.6L538.8,637.3L543.9,640.1M377.9,564.6L372.8,565.5L369.4,568.9L363.4,569.7L355.7,575.7L350.5,580L343.7,583.4L336.8,589.4L330,598M361.7,572.3L360.8,640.1M560,509.8L558.5,513.3L559.3,519.3L558.5,522.7L560,529.5M399.6,215.4L398.2,293.8L388.8,294.1L388.8,304.9L379.9,305.2L378,347.2L376.8,347.5L376.5,369.9M352,369.1L376.5,369.9L438.8,370.6L438.8,420.1M394.4,420.1L394.8,396.8L438.4,397.3M470.1,217.1L467.5,219.7L468.4,225.7L470.9,229.4L474.4,230.5L477.8,235.1L482.1,233.9L486.3,236.8L487.2,240.7L492.3,240.7L494.9,238.5L498.3,242.8L500,246.2L499.5,249.6L502.6,253.1L502.9,257.3L499.2,262.5L497.5,268.5L497.5,277L495.4,282.1L494.9,287.3L492.3,292.4L492.7,299.3L494.9,306.1L497.5,311.2L499.2,316.4L498.3,322.4L499.5,327.5L502.6,330.1L504.3,336.9L506,340.7L512.9,341.2L517.1,342.9L518.9,339.5L523.1,336L525.7,336.9L528.3,342.9L531.7,347.2L538.5,347.5L544.5,346.3L548.8,348.9L552.2,351.5L553.9,346.3L559.1,345.8L561.6,350.6L565.1,352.3L572.8,349.7L576.2,351.5L582,348.9M499.5,327.5L498.8,348.5L501.9,348.9L500.5,417.3L501.7,420.1M571,217.1L571.9,225.7L572.8,230.8L577.9,235.9L581.3,239.4L582,243.6M550,872.3L587.6,872.8L680.9,872.5M587.6,872.8L586.8,951.6L633,952.8L676.6,907.9L682.6,901.1L689.5,900.2L694.6,895.9L705.7,891.7L715.1,899.4L723.7,899.7L719.4,907.1L725.4,914.8L726.3,926.7L725.4,931.9L729.7,933.6L732.3,942.1L728,944.7L727.1,955.8L728.3,965.2L728.8,1023.4M550,942.7L586.3,943M685.2,860L681.8,863.4L681.8,870.3L680.9,877.1L677.5,882.2L676.6,892.5L674.1,901.1L673.6,904.5L676.6,907.9M633,952.8L635.6,959.3L638.1,966.1L634.7,971.2L633.9,979.8L635.6,986.6L634.7,993.5L633.9,1003.8L629.6,1011.5L630.4,1016.6L633.9,1020.9L637.3,1022.6M728.3,965.2L734.8,964.4L741.7,960.1L749.4,955.8L751.1,952.4L758.8,947.3L765.6,944.7L780,943.9M600.3,640L606.3,644.3L605.5,652L610.6,659.7L606.3,667.4L604.6,676.8L600.9,681.9L606.3,683.6L608.9,688.8L609.8,693.9L614,698.2L614.9,701.6L612.3,705.9L613.2,710.2L610.6,715.3L610.1,720.4L605.5,720.8L593.5,732.4L591.8,730.4L585.8,729.5L583.2,736.3L555,736.7M555,732.4L556.4,734.1L555.9,735.8M600.9,681.9L715.9,681.9L715.9,692.2L745,691.9L763.4,691.3M701.8,640L701.8,681.9M749.7,640L749.7,647.7L743.2,647.7L742.7,661.9L763.4,662.2L763.4,770.9L626.9,768.7M763.4,717.9L785,717.9M593.5,732.4L596.1,737.5L601.2,741L604.6,746.1L610.6,751.2L614,758.1L618.3,762.4L626.9,768.7L627.7,773.5L637.1,780.3L642.3,787.2L646.6,790.6L649.1,802.6L654.3,809.4L657.7,818L658.5,822.3L662,830L667.9,832L673.1,836.8L677.9,843.6L686.8,844.5L693.6,839.4L703,835.1L705.6,838.5L708.2,843.6L711.6,836.8L715,830L720.1,827.4L723.6,821.4L727,819.7L730.4,822.3L731.3,826.5L734.7,833.4L740.7,832.5L743.2,835.1L744.1,839.4L749.2,841.9L751.8,847.1L785,844.5M746.3,770.9L745.8,839.4M677.9,843.6L677.4,847.1L682.5,847.9L685.1,853.1L684.7,860.1M560,435.4L563.4,440.5L568.6,447.4L575.4,450.8L578.8,452.5L584,457.6L586.5,464.5L589.1,471.3L593.4,478.2L598.5,481.3L604.5,480.8L609.6,479.9L611.3,474.8L615.6,469.6L616.5,465.3L615.6,461.1L619.9,460.2L625,461.9L630.2,459.4L635.3,460.2L639.6,456.8L642.1,452.5L646.4,449.9L645.6,445.7L645.2,440.5L647.3,436.3L648.6,432.8L646.9,430.3L647.3,420M646.4,449.9L653.3,451.7L658.4,455.1L663.5,455.9L665.2,460.2L669.5,464.5L676.4,467.6L686.6,468.8L689.2,470.5L691.8,470.1M648.6,432.8L684.9,432.5L687.5,433.7L691.8,432.8L692.1,594.6L790,595.4M692.1,436.8L728.6,436.8L729.4,441.4L733.7,441.4L732.8,437.1L736.3,434.5L735.4,430.3L741.4,427.7L745.7,425.1L745.2,428.6L739.7,432L738,436.3L741.4,438.8L745.7,437.1L746.5,436.3L750.8,435.4L751.7,426.8L755.1,426L756.8,420M745.7,437.1L745.7,507.3L790,507.3M745.7,461.1L765.4,461.1L768.8,462.8L769.6,458.5L773.9,457.6L773.9,460.2L785.9,460.2L786.7,451.7L790,451.7M736.3,494.4L741.4,492.7L744.8,491L741.4,488.5L742.3,485.9L746.5,486.7L748.2,490.2L748.2,494.4L745.7,497L739.7,497L736.3,494.4M748.2,490.2L751.7,485L756.8,485.9L763.6,490.2L767.1,490.2L767.9,495.3L772.2,495.3L773.1,491L777.3,489.3L773.9,486.7L769.6,485.9L772.2,481.6L773.9,478.2L773.1,471.3L774.8,468.8L777.3,466.2L790,465.3M773.1,471.3L790,471.3M609.6,479.9L609.3,485.9L614.8,487.6L619,486.7L622.5,490.2L626.7,492.7L631.9,494.4L632.7,498.7L628.5,502.1L624.2,504.7L626.7,507.3L625.9,512.4L621.6,515L619.9,519.3L616.5,522.7L613.1,526.1L607.9,527.8L603.6,532.1L604.5,536.4L600.2,538.1L595.9,541.5L593.4,547.5L589.1,547.5L582.2,544.1L575.4,544.1L560,543.6M624.2,506.4L691.8,507.3M575.4,544.1L574.5,550.1L575.4,553.5L570.3,556L568.2,562L569.4,568.9L569.9,574.9L568.6,580.9L568.9,589.4L566.8,594.6L564.3,598.8L568.6,601.4L569.4,604L566.8,608.2L567.7,613.4L566.8,616.8L570.3,621.1L575.4,621.1L578.8,624.5L579.7,629.6L578.8,633.1L585.7,633.1L591.7,632.2L595.9,634.8L601.1,640.1M560,608.8L566.8,608.8M560,483.3L565.1,485.9L569.4,490.2L570.3,495.3L567.7,498.7L565.1,502.1L566,507.3L563.4,512.4L560,510.7M560,527.8L561.7,531.2L563.4,536.4L565.1,539.8L565.1,543.2M745.7,507.3L743.1,510.7L741.4,517.5L738,522.7L733.7,526.1L732.8,529.5L734.6,532.9L731.1,537.2L726.9,539.8L727.7,544.9L725.1,553.5L721.7,562L718.3,568.9L714,572.3L712.3,577.4L708.9,580.9L706.3,586L702.9,591.1L702,594.6M702,594.6L701.7,640.1M748.8,595.4L750,640.1M762.6,218.3L762.6,349L745.1,349.4L745.1,420M652.8,366.8L695.2,367.2L745.1,366.8M580,236.4L583.4,242.3L590.2,250.8L595.2,259.3L602,272.8L607.1,286.4L611.3,299.9L613.9,310.1L614.7,315.2L619.8,314.8L622,317.7L621.5,321.1L627.4,322.8L629.5,326.2L629.1,333.8L632.5,340.6L638.4,347.3L645.2,353.3L647.7,359.2L649.4,365.1L652.8,366.8L652,369.4L649.8,377.8L650.3,382.9L655.4,390.5L656.2,394.8L654.5,403.2L652.8,407.5L654.5,411.7L652,415.1L646.9,415.9L646.9,420M621.5,321.1L616.4,322.8L615.2,326.2L615.2,333.8L608.8,341.4L607.9,345.7L605.4,348.2L602,345.7L598.6,345.3L596.1,343.6L588.5,347.3L580,349.9M780,944.7L786.8,943.9L792.8,943L796.3,939.6L801.9,936.2L802.8,932.7L802.2,927.6L804.8,924.7L810.8,922.5L816.8,918.2L822.8,909.6L827.9,901.1L833.1,890.8L838.2,880.5L843.3,872L851.9,865.1L857.9,860M857.9,860L904.1,875.7L904.1,860M904.1,875.7L904.9,893.9L1010,892.2M785,717.9L903.1,717L990.4,716.2L991.2,715.3L1015,714.8M902.7,640L903.1,717L903.9,794L904.4,860.1M902.7,646.8L955.8,646.5L955.8,640M991.2,715.3L991.2,751.2L992.1,767.5L1015,767.2M992.1,767.5L991.7,786.3L973.8,786.7L973.8,798.6L944.2,798.8L939.9,798.3L935.6,796.1L930.5,796.6L925.3,795.7L918.5,796.1L915.9,793.2L911.6,792.8L903.9,794M1008.3,767.5L1010,853.9L1009.2,860.1M785,844.5L810.7,842.8L860.3,860.1M790,471.3L875.6,471L955.1,470.5M955.1,420L955.1,504.7L954.3,584.3L956,640.1M790,507.6L806.8,507.6L909.8,505.6L955.1,504.7L1020,504.2M806.8,507.6L806.8,594.9M790,594.9L902.6,594.6L902.6,640.1M790,451.7L796,450.8L796,440.5L801.1,437.1L802.8,438.5L815.7,439.7L814.8,445.7L813.6,446.5L813.6,455.6L792.6,455.9L790,456.3M790,461.1L795.5,461.1L795.5,466.2L790,465.9M972,218L972,275.3L972.5,276.2L972,312.1M885.2,312.9L990,312.1L990.8,417.3L885.6,418.7L885.2,312.9M990.8,329.5L1030,328.3M309,100L309,128.5L310.3,129.5L308,208.8M591.5,100L591.5,111M552,207L552,215M711,100L711,111M711.5,207L711.5,216M807,102.5L894.5,102.5M1001.2,100L1001.2,135.2L1000.5,136.9L1002.2,213.9M1001.2,127.5L1112.7,124.5M992.2,135.8L1001.2,135.8M1112.7,100L1113.4,132.5L1117.1,133.5L1118.7,202.1L1117.1,203.8L1117.1,212.2M1118.7,167.7L1202.1,165.3M1211.5,100L1212.1,129.5M1201.4,130.2L1212.1,129.5L1300.2,126.8L1321.3,126.1L1330,125.8M1201.4,130.2L1204.8,208.8M1299.2,100L1300.2,126.8M1321.3,126.1L1323.6,195.4M1204.8,208.8L1323.6,204.8M1208.6,270.9L1325,266.7M1210.5,341.5L1325,337.3M1315.8,268L1318.6,337.3M1321.3,337.8L1324.1,406.2M1310.3,410.1L1313.5,495.2M1215.3,499.1L1313.5,495.2L1324,494.6M1317.4,495.7L1320.8,582.1M1219.3,586.8L1306.9,584.2L1324,582.8M1306.9,584.2L1309.6,670M1222.4,674.5L1296.5,671.8L1324,670M1296.5,671.8L1298.3,720M1296.9,700L1299.6,759.3M1225.7,762L1299.6,759.3L1325,758.3M1303.6,760.3L1307,846.3L1309.4,847.3L1313.1,935.4M1229.8,867.7L1309.4,865.3L1325,864.6M1231.5,938.1L1313.1,935.4L1325,934.7M1307.7,936.4L1311.4,1013.3M1234.2,1016.7L1235.2,1045.5L1235.9,1047.2L1237.6,1116M1216.2,1120L1216.6,1135.3M1303.6,1116.6L1304.6,1135.3M21.1,242.7L25.2,238.3L30.2,239.3L37,240.3L43.8,236.9L50.6,235.9L52.9,236.9L60.1,234.9L61.7,242.7L62.4,250.5L65.8,252.8L69.2,249.4L73.3,249.4L74.3,245L80,243.7L81.1,230.1L109.8,231.5L109.8,246.1L115.3,246.7L115.6,267.4L120.7,268.1L121,271.5L131.2,271.8M21.1,508.6L113.2,513.6L115.6,507.5L120,506.9M21.1,703.3L113.2,708.4M361,1021.7L359.5,1026L356,1031L357,1041M326,1124L326,1134M590.7,1025.7L594.5,1038.8L595,1042M600,1124L601.5,1134M716,1026L716.9,1032.8L720.3,1040.5L718.6,1048.2L716.9,1056.8L717.7,1065.4L716.9,1075.6L714.3,1080L707,1081L696,1085L694.5,1100L693,1112.5L697,1120L699.5,1127.5L697,1134M914.5,1025.1L915.2,1080L915.8,1134M1063.5,1000L1063.5,1020"/>
<path fill="none" stroke="#000" stroke-width="3.25" stroke-linejoin="miter" d="M135.3,204.4L250,208.6L352,211.7L470,214.9L582,217L690,217.4L800,217.1L920,216.5L1030,215.2L1120,213.3L1204.6,210.3L1204.6,210.3L1209.3,380L1211.4,412L1215.3,499L1219.4,640L1221.9,720L1228,860L1230.9,960L1232.65,1017L1232.65,1017L1180,1018.2L1120,1020.2L1077.5,1021.3L1040,1021.8L1010,1022.3L880,1024.2L780,1024.6L665,1024.4L550,1023.9L435,1021.8L320,1018.6L207,1014.2L140,1011.4L99.4,1009.9L99.4,1009.9L101.1,970L106.2,860L116,640L125.7,420L135.3,204.4L250,208.6M20,198.1L135.3,204.4M20,1006.7L60,1008.3L99.4,1009.9M99.4,1009.9L97.6,1039L93.8,1134.5M897.4,100L897.8,216.6M1211.4,412L1325,407.5M1232.65,1017L1260,1015.9L1325,1013.5M1077.5,1021.3L1079.9,1121.2M1072.5,1134.6L1072.5,1122.2L1079.9,1121.2L1237.3,1117.2L1325,1113.8"/>
</g>
<rect x="355.6" y="111.4" width="634.9" height="95.05" fill="#fff" stroke="#000" stroke-width="3.1"/>
<text class="b" x="364" y="138.6">statewide departure from 1901-2000 avg: -3.5 inches</text>
<text class="b" x="364" y="165.6">statewide departure from 1991-2020 avg: -3.7 inches</text>
<text class="b" x="364" y="192.6">statewide rank: 8th driest/123rd wettest</text>
<rect x="31.5" y="1040.4" width="627.2" height="84.1" fill="#fff" stroke="#000" stroke-width="3.1"/>
<text class="b2" x="39.2" y="1065.7">source: PRISM Climate Group, Oregon State University</text>
<text class="b2" x="39.2" y="1088.75">map: Colorado Climate Center/Colorado State University</text>
<text class="b2" x="39.2" y="1111.8">map generated 06 March 2025</text>
<rect x="20" y="100" width="1304.7" height="1034.5" fill="none" stroke="#000" stroke-width="2.1"/>
<text class="t" x="672" y="45.5" text-anchor="middle">percent of 1991-2020 average precipitation (preliminary PRISM data)</text>
<text class="t" x="672" y="83" text-anchor="middle">6 months ending September 2012 (Apr-Sep)</text>
<rect x="122.70" y="1147.1" width="122.71" height="40.4" fill="#734208"/>
<rect x="244.81" y="1147.1" width="122.71" height="40.4" fill="#ad7021"/>
<rect x="366.92" y="1147.1" width="122.71" height="40.4" fill="#d8b46c"/>
<rect x="489.03" y="1147.1" width="122.71" height="40.4" fill="#f3e4bb"/>
<rect x="611.14" y="1147.1" width="122.71" height="40.4" fill="#f4f5f5"/>
<rect x="733.26" y="1147.1" width="122.71" height="40.4" fill="#bfe7e1"/>
<rect x="855.37" y="1147.1" width="122.71" height="40.4" fill="#70c1b6"/>
<rect x="977.48" y="1147.1" width="122.71" height="40.4" fill="#23867e"/>
<rect x="1099.59" y="1147.1" width="122.71" height="40.4" fill="#015349"/>
<path d="M123,1147.1 L68,1167.3 L123,1187.5 Z" fill="#543005"/>
<path d="M1222,1147.1 L1277,1167.3 L1222,1187.5 Z" fill="#003c30"/>
<path d="M123,1147.1 L1222,1147.1 L1277,1167.3 L1222,1187.5 L123,1187.5 L68,1167.3 Z" fill="none" stroke="#000" stroke-width="2.1" stroke-linejoin="round"/>
<line x1="123.00" x2="123.00" y1="1187.5" y2="1196.8" stroke="#000" stroke-width="2.2"/>
<text class="k" x="123.00" y="1230.2" text-anchor="middle">10</text>
<line x1="245.11" x2="245.11" y1="1187.5" y2="1196.8" stroke="#000" stroke-width="2.2"/>
<text class="k" x="245.11" y="1230.2" text-anchor="middle">30</text>
<line x1="367.22" x2="367.22" y1="1187.5" y2="1196.8" stroke="#000" stroke-width="2.2"/>
<text class="k" x="367.22" y="1230.2" text-anchor="middle">50</text>
<line x1="489.33" x2="489.33" y1="1187.5" y2="1196.8" stroke="#000" stroke-width="2.2"/>
<text class="k" x="489.33" y="1230.2" text-anchor="middle">70</text>
<line x1="611.44" x2="611.44" y1="1187.5" y2="1196.8" stroke="#000" stroke-width="2.2"/>
<text class="k" x="611.44" y="1230.2" text-anchor="middle">90</text>
<line x1="733.56" x2="733.56" y1="1187.5" y2="1196.8" stroke="#000" stroke-width="2.2"/>
<text class="k" x="733.56" y="1230.2" text-anchor="middle">110</text>
<line x1="855.67" x2="855.67" y1="1187.5" y2="1196.8" stroke="#000" stroke-width="2.2"/>
<text class="k" x="855.67" y="1230.2" text-anchor="middle">130</text>
<line x1="977.78" x2="977.78" y1="1187.5" y2="1196.8" stroke="#000" stroke-width="2.2"/>
<text class="k" x="977.78" y="1230.2" text-anchor="middle">150</text>
<line x1="1099.89" x2="1099.89" y1="1187.5" y2="1196.8" stroke="#000" stroke-width="2.2"/>
<text class="k" x="1099.89" y="1230.2" text-anchor="middle">170</text>
<line x1="1222.00" x2="1222.00" y1="1187.5" y2="1196.8" stroke="#000" stroke-width="2.2"/>
<text class="k" x="1222.00" y="1230.2" text-anchor="middle">190</text>
<text class="t" x="672" y="1272.5" text-anchor="middle">percent of average precipitation</text>
</svg></body></html>
